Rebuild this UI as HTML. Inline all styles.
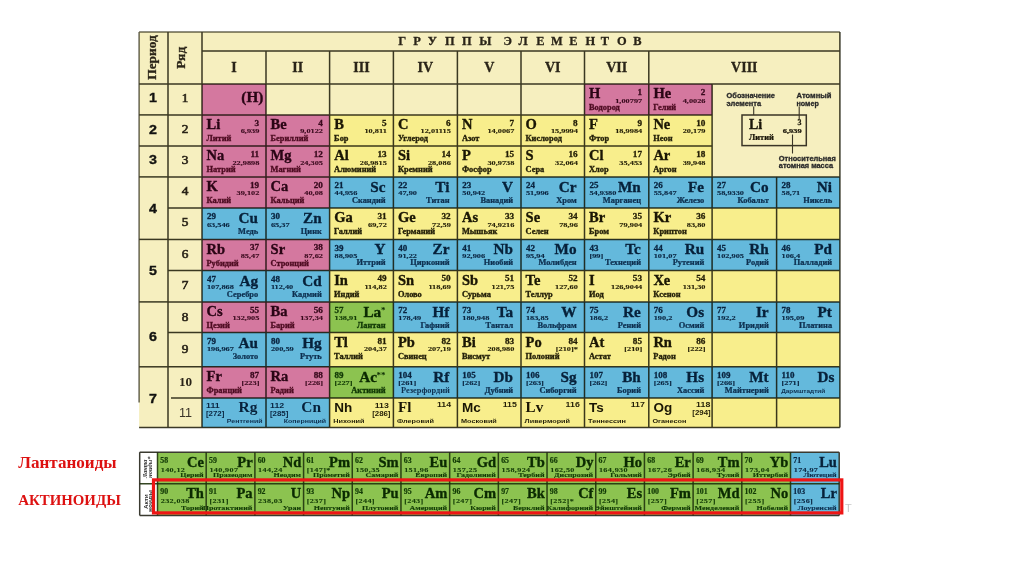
<!DOCTYPE html>
<html><head><meta charset="utf-8"><title>Периодическая система</title>
<style>html,body{margin:0;padding:0;background:#fff;width:1024px;height:574px;overflow:hidden}svg{display:block}</style>
</head><body>
<svg width="1024" height="574" viewBox="0 0 1024 574">
<rect x="139.10" y="31.90" width="700.80" height="395.60" fill="#f6efbf"/>
<rect x="202.00" y="114.90" width="64.00" height="31.10" fill="#d4789f"/>
<rect x="266.00" y="114.90" width="63.60" height="31.10" fill="#d4789f"/>
<rect x="329.60" y="114.90" width="63.80" height="31.10" fill="#f8ee8c"/>
<rect x="393.40" y="114.90" width="64.00" height="31.10" fill="#f8ee8c"/>
<rect x="457.40" y="114.90" width="63.60" height="31.10" fill="#f8ee8c"/>
<rect x="521.00" y="114.90" width="63.50" height="31.10" fill="#f8ee8c"/>
<rect x="584.50" y="114.90" width="64.30" height="31.10" fill="#f8ee8c"/>
<rect x="648.80" y="114.90" width="63.30" height="31.10" fill="#f8ee8c"/>
<rect x="202.00" y="146.00" width="64.00" height="30.90" fill="#d4789f"/>
<rect x="266.00" y="146.00" width="63.60" height="30.90" fill="#d4789f"/>
<rect x="329.60" y="146.00" width="63.80" height="30.90" fill="#f8ee8c"/>
<rect x="393.40" y="146.00" width="64.00" height="30.90" fill="#f8ee8c"/>
<rect x="457.40" y="146.00" width="63.60" height="30.90" fill="#f8ee8c"/>
<rect x="521.00" y="146.00" width="63.50" height="30.90" fill="#f8ee8c"/>
<rect x="584.50" y="146.00" width="64.30" height="30.90" fill="#f8ee8c"/>
<rect x="648.80" y="146.00" width="63.30" height="30.90" fill="#f8ee8c"/>
<rect x="202.00" y="176.90" width="64.00" height="31.10" fill="#d4789f"/>
<rect x="266.00" y="176.90" width="63.60" height="31.10" fill="#d4789f"/>
<rect x="329.60" y="176.90" width="63.80" height="31.10" fill="#64b9dc"/>
<rect x="393.40" y="176.90" width="64.00" height="31.10" fill="#64b9dc"/>
<rect x="457.40" y="176.90" width="63.60" height="31.10" fill="#64b9dc"/>
<rect x="521.00" y="176.90" width="63.50" height="31.10" fill="#64b9dc"/>
<rect x="584.50" y="176.90" width="64.30" height="31.10" fill="#64b9dc"/>
<rect x="648.80" y="176.90" width="63.30" height="31.10" fill="#64b9dc"/>
<rect x="712.10" y="176.90" width="64.50" height="31.10" fill="#64b9dc"/>
<rect x="776.60" y="176.90" width="63.30" height="31.10" fill="#64b9dc"/>
<rect x="202.00" y="208.00" width="64.00" height="31.40" fill="#64b9dc"/>
<rect x="266.00" y="208.00" width="63.60" height="31.40" fill="#64b9dc"/>
<rect x="329.60" y="208.00" width="63.80" height="31.40" fill="#f8ee8c"/>
<rect x="393.40" y="208.00" width="64.00" height="31.40" fill="#f8ee8c"/>
<rect x="457.40" y="208.00" width="63.60" height="31.40" fill="#f8ee8c"/>
<rect x="521.00" y="208.00" width="63.50" height="31.40" fill="#f8ee8c"/>
<rect x="584.50" y="208.00" width="64.30" height="31.40" fill="#f8ee8c"/>
<rect x="648.80" y="208.00" width="63.30" height="31.40" fill="#f8ee8c"/>
<rect x="712.10" y="208.00" width="64.50" height="31.40" fill="#f8ee8c"/>
<rect x="776.60" y="208.00" width="63.30" height="31.40" fill="#f8ee8c"/>
<rect x="202.00" y="239.40" width="64.00" height="31.10" fill="#d4789f"/>
<rect x="266.00" y="239.40" width="63.60" height="31.10" fill="#d4789f"/>
<rect x="329.60" y="239.40" width="63.80" height="31.10" fill="#64b9dc"/>
<rect x="393.40" y="239.40" width="64.00" height="31.10" fill="#64b9dc"/>
<rect x="457.40" y="239.40" width="63.60" height="31.10" fill="#64b9dc"/>
<rect x="521.00" y="239.40" width="63.50" height="31.10" fill="#64b9dc"/>
<rect x="584.50" y="239.40" width="64.30" height="31.10" fill="#64b9dc"/>
<rect x="648.80" y="239.40" width="63.30" height="31.10" fill="#64b9dc"/>
<rect x="712.10" y="239.40" width="64.50" height="31.10" fill="#64b9dc"/>
<rect x="776.60" y="239.40" width="63.30" height="31.10" fill="#64b9dc"/>
<rect x="202.00" y="270.50" width="64.00" height="31.40" fill="#64b9dc"/>
<rect x="266.00" y="270.50" width="63.60" height="31.40" fill="#64b9dc"/>
<rect x="329.60" y="270.50" width="63.80" height="31.40" fill="#f8ee8c"/>
<rect x="393.40" y="270.50" width="64.00" height="31.40" fill="#f8ee8c"/>
<rect x="457.40" y="270.50" width="63.60" height="31.40" fill="#f8ee8c"/>
<rect x="521.00" y="270.50" width="63.50" height="31.40" fill="#f8ee8c"/>
<rect x="584.50" y="270.50" width="64.30" height="31.40" fill="#f8ee8c"/>
<rect x="648.80" y="270.50" width="63.30" height="31.40" fill="#f8ee8c"/>
<rect x="712.10" y="270.50" width="64.50" height="31.40" fill="#f8ee8c"/>
<rect x="776.60" y="270.50" width="63.30" height="31.40" fill="#f8ee8c"/>
<rect x="202.00" y="301.90" width="64.00" height="30.70" fill="#d4789f"/>
<rect x="266.00" y="301.90" width="63.60" height="30.70" fill="#d4789f"/>
<rect x="329.60" y="301.90" width="63.80" height="30.70" fill="#8cc350"/>
<rect x="393.40" y="301.90" width="64.00" height="30.70" fill="#64b9dc"/>
<rect x="457.40" y="301.90" width="63.60" height="30.70" fill="#64b9dc"/>
<rect x="521.00" y="301.90" width="63.50" height="30.70" fill="#64b9dc"/>
<rect x="584.50" y="301.90" width="64.30" height="30.70" fill="#64b9dc"/>
<rect x="648.80" y="301.90" width="63.30" height="30.70" fill="#64b9dc"/>
<rect x="712.10" y="301.90" width="64.50" height="30.70" fill="#64b9dc"/>
<rect x="776.60" y="301.90" width="63.30" height="30.70" fill="#64b9dc"/>
<rect x="202.00" y="332.60" width="64.00" height="34.20" fill="#64b9dc"/>
<rect x="266.00" y="332.60" width="63.60" height="34.20" fill="#64b9dc"/>
<rect x="329.60" y="332.60" width="63.80" height="34.20" fill="#f8ee8c"/>
<rect x="393.40" y="332.60" width="64.00" height="34.20" fill="#f8ee8c"/>
<rect x="457.40" y="332.60" width="63.60" height="34.20" fill="#f8ee8c"/>
<rect x="521.00" y="332.60" width="63.50" height="34.20" fill="#f8ee8c"/>
<rect x="584.50" y="332.60" width="64.30" height="34.20" fill="#f8ee8c"/>
<rect x="648.80" y="332.60" width="63.30" height="34.20" fill="#f8ee8c"/>
<rect x="712.10" y="332.60" width="64.50" height="34.20" fill="#f8ee8c"/>
<rect x="776.60" y="332.60" width="63.30" height="34.20" fill="#f8ee8c"/>
<rect x="202.00" y="366.80" width="64.00" height="31.20" fill="#d4789f"/>
<rect x="266.00" y="366.80" width="63.60" height="31.20" fill="#d4789f"/>
<rect x="329.60" y="366.80" width="63.80" height="31.20" fill="#8cc350"/>
<rect x="393.40" y="366.80" width="64.00" height="31.20" fill="#64b9dc"/>
<rect x="457.40" y="366.80" width="63.60" height="31.20" fill="#64b9dc"/>
<rect x="521.00" y="366.80" width="63.50" height="31.20" fill="#64b9dc"/>
<rect x="584.50" y="366.80" width="64.30" height="31.20" fill="#64b9dc"/>
<rect x="648.80" y="366.80" width="63.30" height="31.20" fill="#64b9dc"/>
<rect x="712.10" y="366.80" width="64.50" height="31.20" fill="#64b9dc"/>
<rect x="776.60" y="366.80" width="63.30" height="31.20" fill="#64b9dc"/>
<rect x="202.00" y="398.00" width="64.00" height="29.50" fill="#64b9dc"/>
<rect x="266.00" y="398.00" width="63.60" height="29.50" fill="#64b9dc"/>
<rect x="329.60" y="398.00" width="63.80" height="29.50" fill="#f8ee8c"/>
<rect x="393.40" y="398.00" width="64.00" height="29.50" fill="#f8ee8c"/>
<rect x="457.40" y="398.00" width="63.60" height="29.50" fill="#f8ee8c"/>
<rect x="521.00" y="398.00" width="63.50" height="29.50" fill="#f8ee8c"/>
<rect x="584.50" y="398.00" width="64.30" height="29.50" fill="#f8ee8c"/>
<rect x="648.80" y="398.00" width="63.30" height="29.50" fill="#f8ee8c"/>
<rect x="712.10" y="398.00" width="64.50" height="29.50" fill="#f8ee8c"/>
<rect x="776.60" y="398.00" width="63.30" height="29.50" fill="#f8ee8c"/>
<rect x="584.50" y="84.00" width="64.30" height="30.90" fill="#d4789f"/>
<rect x="648.80" y="84.00" width="63.30" height="30.90" fill="#d4789f"/>
<rect x="202.00" y="84.00" width="64.00" height="30.90" fill="#d4789f"/>
<text x="206.60" y="129.20" font-family='"Liberation Serif", serif' font-size="14.5" font-weight="bold" fill="#2a0515" stroke="#2a0515" stroke-width="0.35">Li</text>
<text transform="translate(259.20,125.80) scale(1.08,1.0)" font-family='"Liberation Serif", serif' font-size="8.5" font-weight="bold" fill="#3a0a1e" text-anchor="end" stroke="#3a0a1e" stroke-width="0.3">3</text>
<text transform="translate(259.40,133.40) scale(1.04,0.8)" font-family='"Liberation Serif", serif' font-size="8" font-weight="bold" fill="#3a0a1e" text-anchor="end" stroke="#3a0a1e" stroke-width="0.15">6,939</text>
<text transform="translate(206.50,141.00) scale(1.15,1.0)" font-family='"Liberation Serif", serif' font-size="7.3" font-weight="bold" fill="#4e0c22" stroke="#4e0c22" stroke-width="0.3">Литий</text>
<text x="270.60" y="129.20" font-family='"Liberation Serif", serif' font-size="14.5" font-weight="bold" fill="#2a0515" stroke="#2a0515" stroke-width="0.35">Be</text>
<text transform="translate(322.80,125.80) scale(1.08,1.0)" font-family='"Liberation Serif", serif' font-size="8.5" font-weight="bold" fill="#3a0a1e" text-anchor="end" stroke="#3a0a1e" stroke-width="0.3">4</text>
<text transform="translate(323.00,133.40) scale(1.04,0.8)" font-family='"Liberation Serif", serif' font-size="8" font-weight="bold" fill="#3a0a1e" text-anchor="end" stroke="#3a0a1e" stroke-width="0.15">9,0122</text>
<text transform="translate(270.50,141.00) scale(1.15,1.0)" font-family='"Liberation Serif", serif' font-size="7.3" font-weight="bold" fill="#4e0c22" stroke="#4e0c22" stroke-width="0.3">Бериллий</text>
<text x="334.20" y="129.20" font-family='"Liberation Serif", serif' font-size="14.5" font-weight="bold" fill="#1a1604" stroke="#1a1604" stroke-width="0.35">B</text>
<text transform="translate(386.60,125.80) scale(1.08,1.0)" font-family='"Liberation Serif", serif' font-size="8.5" font-weight="bold" fill="#231e06" text-anchor="end" stroke="#231e06" stroke-width="0.3">5</text>
<text transform="translate(386.80,133.40) scale(1.04,0.8)" font-family='"Liberation Serif", serif' font-size="8" font-weight="bold" fill="#231e06" text-anchor="end" stroke="#231e06" stroke-width="0.15">10,811</text>
<text transform="translate(334.10,141.00) scale(1.15,1.0)" font-family='"Liberation Serif", serif' font-size="7.3" font-weight="bold" fill="#26220a" stroke="#26220a" stroke-width="0.3">Бор</text>
<text x="398.00" y="129.20" font-family='"Liberation Serif", serif' font-size="14.5" font-weight="bold" fill="#1a1604" stroke="#1a1604" stroke-width="0.35">C</text>
<text transform="translate(450.60,125.80) scale(1.08,1.0)" font-family='"Liberation Serif", serif' font-size="8.5" font-weight="bold" fill="#231e06" text-anchor="end" stroke="#231e06" stroke-width="0.3">6</text>
<text transform="translate(450.80,133.40) scale(1.04,0.8)" font-family='"Liberation Serif", serif' font-size="8" font-weight="bold" fill="#231e06" text-anchor="end" stroke="#231e06" stroke-width="0.15">12,01115</text>
<text transform="translate(397.90,141.00) scale(1.15,1.0)" font-family='"Liberation Serif", serif' font-size="7.3" font-weight="bold" fill="#26220a" stroke="#26220a" stroke-width="0.3">Углерод</text>
<text x="462.00" y="129.20" font-family='"Liberation Serif", serif' font-size="14.5" font-weight="bold" fill="#1a1604" stroke="#1a1604" stroke-width="0.35">N</text>
<text transform="translate(514.20,125.80) scale(1.08,1.0)" font-family='"Liberation Serif", serif' font-size="8.5" font-weight="bold" fill="#231e06" text-anchor="end" stroke="#231e06" stroke-width="0.3">7</text>
<text transform="translate(514.40,133.40) scale(1.04,0.8)" font-family='"Liberation Serif", serif' font-size="8" font-weight="bold" fill="#231e06" text-anchor="end" stroke="#231e06" stroke-width="0.15">14,0067</text>
<text transform="translate(461.90,141.00) scale(1.15,1.0)" font-family='"Liberation Serif", serif' font-size="7.3" font-weight="bold" fill="#26220a" stroke="#26220a" stroke-width="0.3">Азот</text>
<text x="525.60" y="129.20" font-family='"Liberation Serif", serif' font-size="14.5" font-weight="bold" fill="#1a1604" stroke="#1a1604" stroke-width="0.35">O</text>
<text transform="translate(577.70,125.80) scale(1.08,1.0)" font-family='"Liberation Serif", serif' font-size="8.5" font-weight="bold" fill="#231e06" text-anchor="end" stroke="#231e06" stroke-width="0.3">8</text>
<text transform="translate(577.90,133.40) scale(1.04,0.8)" font-family='"Liberation Serif", serif' font-size="8" font-weight="bold" fill="#231e06" text-anchor="end" stroke="#231e06" stroke-width="0.15">15,9994</text>
<text transform="translate(525.50,141.00) scale(1.15,1.0)" font-family='"Liberation Serif", serif' font-size="7.3" font-weight="bold" fill="#26220a" stroke="#26220a" stroke-width="0.3">Кислород</text>
<text x="589.10" y="129.20" font-family='"Liberation Serif", serif' font-size="14.5" font-weight="bold" fill="#1a1604" stroke="#1a1604" stroke-width="0.35">F</text>
<text transform="translate(642.00,125.80) scale(1.08,1.0)" font-family='"Liberation Serif", serif' font-size="8.5" font-weight="bold" fill="#231e06" text-anchor="end" stroke="#231e06" stroke-width="0.3">9</text>
<text transform="translate(642.20,133.40) scale(1.04,0.8)" font-family='"Liberation Serif", serif' font-size="8" font-weight="bold" fill="#231e06" text-anchor="end" stroke="#231e06" stroke-width="0.15">18,9984</text>
<text transform="translate(589.00,141.00) scale(1.15,1.0)" font-family='"Liberation Serif", serif' font-size="7.3" font-weight="bold" fill="#26220a" stroke="#26220a" stroke-width="0.3">Фтор</text>
<text x="653.40" y="129.20" font-family='"Liberation Serif", serif' font-size="14.5" font-weight="bold" fill="#1a1604" stroke="#1a1604" stroke-width="0.35">Ne</text>
<text transform="translate(705.30,125.80) scale(1.08,1.0)" font-family='"Liberation Serif", serif' font-size="8.5" font-weight="bold" fill="#231e06" text-anchor="end" stroke="#231e06" stroke-width="0.3">10</text>
<text transform="translate(705.50,133.40) scale(1.04,0.8)" font-family='"Liberation Serif", serif' font-size="8" font-weight="bold" fill="#231e06" text-anchor="end" stroke="#231e06" stroke-width="0.15">20,179</text>
<text transform="translate(653.30,141.00) scale(1.15,1.0)" font-family='"Liberation Serif", serif' font-size="7.3" font-weight="bold" fill="#26220a" stroke="#26220a" stroke-width="0.3">Неон</text>
<text x="206.60" y="160.30" font-family='"Liberation Serif", serif' font-size="14.5" font-weight="bold" fill="#2a0515" stroke="#2a0515" stroke-width="0.35">Na</text>
<text transform="translate(259.20,156.90) scale(1.08,1.0)" font-family='"Liberation Serif", serif' font-size="8.5" font-weight="bold" fill="#3a0a1e" text-anchor="end" stroke="#3a0a1e" stroke-width="0.3">11</text>
<text transform="translate(259.40,164.50) scale(1.04,0.8)" font-family='"Liberation Serif", serif' font-size="8" font-weight="bold" fill="#3a0a1e" text-anchor="end" stroke="#3a0a1e" stroke-width="0.15">22,9898</text>
<text transform="translate(206.50,172.10) scale(1.15,1.0)" font-family='"Liberation Serif", serif' font-size="7.3" font-weight="bold" fill="#4e0c22" stroke="#4e0c22" stroke-width="0.3">Натрий</text>
<text x="270.60" y="160.30" font-family='"Liberation Serif", serif' font-size="14.5" font-weight="bold" fill="#2a0515" stroke="#2a0515" stroke-width="0.35">Mg</text>
<text transform="translate(322.80,156.90) scale(1.08,1.0)" font-family='"Liberation Serif", serif' font-size="8.5" font-weight="bold" fill="#3a0a1e" text-anchor="end" stroke="#3a0a1e" stroke-width="0.3">12</text>
<text transform="translate(323.00,164.50) scale(1.04,0.8)" font-family='"Liberation Serif", serif' font-size="8" font-weight="bold" fill="#3a0a1e" text-anchor="end" stroke="#3a0a1e" stroke-width="0.15">24,305</text>
<text transform="translate(270.50,172.10) scale(1.15,1.0)" font-family='"Liberation Serif", serif' font-size="7.3" font-weight="bold" fill="#4e0c22" stroke="#4e0c22" stroke-width="0.3">Магний</text>
<text x="334.20" y="160.30" font-family='"Liberation Serif", serif' font-size="14.5" font-weight="bold" fill="#1a1604" stroke="#1a1604" stroke-width="0.35">Al</text>
<text transform="translate(386.60,156.90) scale(1.08,1.0)" font-family='"Liberation Serif", serif' font-size="8.5" font-weight="bold" fill="#231e06" text-anchor="end" stroke="#231e06" stroke-width="0.3">13</text>
<text transform="translate(386.80,164.50) scale(1.04,0.8)" font-family='"Liberation Serif", serif' font-size="8" font-weight="bold" fill="#231e06" text-anchor="end" stroke="#231e06" stroke-width="0.15">26,9815</text>
<text transform="translate(334.10,172.10) scale(1.15,1.0)" font-family='"Liberation Serif", serif' font-size="7.3" font-weight="bold" fill="#26220a" stroke="#26220a" stroke-width="0.3">Алюминий</text>
<text x="398.00" y="160.30" font-family='"Liberation Serif", serif' font-size="14.5" font-weight="bold" fill="#1a1604" stroke="#1a1604" stroke-width="0.35">Si</text>
<text transform="translate(450.60,156.90) scale(1.08,1.0)" font-family='"Liberation Serif", serif' font-size="8.5" font-weight="bold" fill="#231e06" text-anchor="end" stroke="#231e06" stroke-width="0.3">14</text>
<text transform="translate(450.80,164.50) scale(1.04,0.8)" font-family='"Liberation Serif", serif' font-size="8" font-weight="bold" fill="#231e06" text-anchor="end" stroke="#231e06" stroke-width="0.15">28,086</text>
<text transform="translate(397.90,172.10) scale(1.15,1.0)" font-family='"Liberation Serif", serif' font-size="7.3" font-weight="bold" fill="#26220a" stroke="#26220a" stroke-width="0.3">Кремний</text>
<text x="462.00" y="160.30" font-family='"Liberation Serif", serif' font-size="14.5" font-weight="bold" fill="#1a1604" stroke="#1a1604" stroke-width="0.35">P</text>
<text transform="translate(514.20,156.90) scale(1.08,1.0)" font-family='"Liberation Serif", serif' font-size="8.5" font-weight="bold" fill="#231e06" text-anchor="end" stroke="#231e06" stroke-width="0.3">15</text>
<text transform="translate(514.40,164.50) scale(1.04,0.8)" font-family='"Liberation Serif", serif' font-size="8" font-weight="bold" fill="#231e06" text-anchor="end" stroke="#231e06" stroke-width="0.15">30,9738</text>
<text transform="translate(461.90,172.10) scale(1.15,1.0)" font-family='"Liberation Serif", serif' font-size="7.3" font-weight="bold" fill="#26220a" stroke="#26220a" stroke-width="0.3">Фосфор</text>
<text x="525.60" y="160.30" font-family='"Liberation Serif", serif' font-size="14.5" font-weight="bold" fill="#1a1604" stroke="#1a1604" stroke-width="0.35">S</text>
<text transform="translate(577.70,156.90) scale(1.08,1.0)" font-family='"Liberation Serif", serif' font-size="8.5" font-weight="bold" fill="#231e06" text-anchor="end" stroke="#231e06" stroke-width="0.3">16</text>
<text transform="translate(577.90,164.50) scale(1.04,0.8)" font-family='"Liberation Serif", serif' font-size="8" font-weight="bold" fill="#231e06" text-anchor="end" stroke="#231e06" stroke-width="0.15">32,064</text>
<text transform="translate(525.50,172.10) scale(1.15,1.0)" font-family='"Liberation Serif", serif' font-size="7.3" font-weight="bold" fill="#26220a" stroke="#26220a" stroke-width="0.3">Сера</text>
<text x="589.10" y="160.30" font-family='"Liberation Serif", serif' font-size="14.5" font-weight="bold" fill="#1a1604" stroke="#1a1604" stroke-width="0.35">Cl</text>
<text transform="translate(642.00,156.90) scale(1.08,1.0)" font-family='"Liberation Serif", serif' font-size="8.5" font-weight="bold" fill="#231e06" text-anchor="end" stroke="#231e06" stroke-width="0.3">17</text>
<text transform="translate(642.20,164.50) scale(1.04,0.8)" font-family='"Liberation Serif", serif' font-size="8" font-weight="bold" fill="#231e06" text-anchor="end" stroke="#231e06" stroke-width="0.15">35,453</text>
<text transform="translate(589.00,172.10) scale(1.15,1.0)" font-family='"Liberation Serif", serif' font-size="7.3" font-weight="bold" fill="#26220a" stroke="#26220a" stroke-width="0.3">Хлор</text>
<text x="653.40" y="160.30" font-family='"Liberation Serif", serif' font-size="14.5" font-weight="bold" fill="#1a1604" stroke="#1a1604" stroke-width="0.35">Ar</text>
<text transform="translate(705.30,156.90) scale(1.08,1.0)" font-family='"Liberation Serif", serif' font-size="8.5" font-weight="bold" fill="#231e06" text-anchor="end" stroke="#231e06" stroke-width="0.3">18</text>
<text transform="translate(705.50,164.50) scale(1.04,0.8)" font-family='"Liberation Serif", serif' font-size="8" font-weight="bold" fill="#231e06" text-anchor="end" stroke="#231e06" stroke-width="0.15">39,948</text>
<text transform="translate(653.30,172.10) scale(1.15,1.0)" font-family='"Liberation Serif", serif' font-size="7.3" font-weight="bold" fill="#26220a" stroke="#26220a" stroke-width="0.3">Аргон</text>
<text x="206.60" y="191.20" font-family='"Liberation Serif", serif' font-size="14.5" font-weight="bold" fill="#2a0515" stroke="#2a0515" stroke-width="0.35">K</text>
<text transform="translate(259.20,187.80) scale(1.08,1.0)" font-family='"Liberation Serif", serif' font-size="8.5" font-weight="bold" fill="#3a0a1e" text-anchor="end" stroke="#3a0a1e" stroke-width="0.3">19</text>
<text transform="translate(259.40,195.40) scale(1.04,0.8)" font-family='"Liberation Serif", serif' font-size="8" font-weight="bold" fill="#3a0a1e" text-anchor="end" stroke="#3a0a1e" stroke-width="0.15">39,102</text>
<text transform="translate(206.50,203.00) scale(1.15,1.0)" font-family='"Liberation Serif", serif' font-size="7.3" font-weight="bold" fill="#4e0c22" stroke="#4e0c22" stroke-width="0.3">Калий</text>
<text x="270.60" y="191.20" font-family='"Liberation Serif", serif' font-size="14.5" font-weight="bold" fill="#2a0515" stroke="#2a0515" stroke-width="0.35">Ca</text>
<text transform="translate(322.80,187.80) scale(1.08,1.0)" font-family='"Liberation Serif", serif' font-size="8.5" font-weight="bold" fill="#3a0a1e" text-anchor="end" stroke="#3a0a1e" stroke-width="0.3">20</text>
<text transform="translate(323.00,195.40) scale(1.04,0.8)" font-family='"Liberation Serif", serif' font-size="8" font-weight="bold" fill="#3a0a1e" text-anchor="end" stroke="#3a0a1e" stroke-width="0.15">40,08</text>
<text transform="translate(270.50,203.00) scale(1.15,1.0)" font-family='"Liberation Serif", serif' font-size="7.3" font-weight="bold" fill="#4e0c22" stroke="#4e0c22" stroke-width="0.3">Кальций</text>
<text transform="translate(334.50,188.10) scale(1.06,1.0)" font-family='"Liberation Serif", serif' font-size="8.5" font-weight="bold" fill="#0a2540" stroke="#0a2540" stroke-width="0.3">21</text>
<text transform="translate(334.50,195.40) scale(1.04,0.8)" font-family='"Liberation Serif", serif' font-size="8" font-weight="bold" fill="#0a2540" stroke="#0a2540" stroke-width="0.15">44,956</text>
<text x="385.40" y="191.90" font-family='"Liberation Serif", serif' font-size="15.2" font-weight="bold" fill="#07213a" text-anchor="end" stroke="#07213a" stroke-width="0.35">Sc</text>
<text transform="translate(385.60,202.90) scale(1.15,1.0)" font-family='"Liberation Serif", serif' font-size="7.3" font-weight="bold" fill="#0e3050" text-anchor="end" stroke="#0e3050" stroke-width="0.25">Скандий</text>
<text transform="translate(398.30,188.10) scale(1.06,1.0)" font-family='"Liberation Serif", serif' font-size="8.5" font-weight="bold" fill="#0a2540" stroke="#0a2540" stroke-width="0.3">22</text>
<text transform="translate(398.30,195.40) scale(1.04,0.8)" font-family='"Liberation Serif", serif' font-size="8" font-weight="bold" fill="#0a2540" stroke="#0a2540" stroke-width="0.15">47,90</text>
<text x="449.40" y="191.90" font-family='"Liberation Serif", serif' font-size="15.2" font-weight="bold" fill="#07213a" text-anchor="end" stroke="#07213a" stroke-width="0.35">Ti</text>
<text transform="translate(449.60,202.90) scale(1.15,1.0)" font-family='"Liberation Serif", serif' font-size="7.3" font-weight="bold" fill="#0e3050" text-anchor="end" stroke="#0e3050" stroke-width="0.25">Титан</text>
<text transform="translate(462.30,188.10) scale(1.06,1.0)" font-family='"Liberation Serif", serif' font-size="8.5" font-weight="bold" fill="#0a2540" stroke="#0a2540" stroke-width="0.3">23</text>
<text transform="translate(462.30,195.40) scale(1.04,0.8)" font-family='"Liberation Serif", serif' font-size="8" font-weight="bold" fill="#0a2540" stroke="#0a2540" stroke-width="0.15">50,942</text>
<text x="513.00" y="191.90" font-family='"Liberation Serif", serif' font-size="15.2" font-weight="bold" fill="#07213a" text-anchor="end" stroke="#07213a" stroke-width="0.35">V</text>
<text transform="translate(513.20,202.90) scale(1.15,1.0)" font-family='"Liberation Serif", serif' font-size="7.3" font-weight="bold" fill="#0e3050" text-anchor="end" stroke="#0e3050" stroke-width="0.25">Ванадий</text>
<text transform="translate(525.90,188.10) scale(1.06,1.0)" font-family='"Liberation Serif", serif' font-size="8.5" font-weight="bold" fill="#0a2540" stroke="#0a2540" stroke-width="0.3">24</text>
<text transform="translate(525.90,195.40) scale(1.04,0.8)" font-family='"Liberation Serif", serif' font-size="8" font-weight="bold" fill="#0a2540" stroke="#0a2540" stroke-width="0.15">51,996</text>
<text x="576.50" y="191.90" font-family='"Liberation Serif", serif' font-size="15.2" font-weight="bold" fill="#07213a" text-anchor="end" stroke="#07213a" stroke-width="0.35">Cr</text>
<text transform="translate(576.70,202.90) scale(1.15,1.0)" font-family='"Liberation Serif", serif' font-size="7.3" font-weight="bold" fill="#0e3050" text-anchor="end" stroke="#0e3050" stroke-width="0.25">Хром</text>
<text transform="translate(589.40,188.10) scale(1.06,1.0)" font-family='"Liberation Serif", serif' font-size="8.5" font-weight="bold" fill="#0a2540" stroke="#0a2540" stroke-width="0.3">25</text>
<text transform="translate(589.40,195.40) scale(1.04,0.8)" font-family='"Liberation Serif", serif' font-size="8" font-weight="bold" fill="#0a2540" stroke="#0a2540" stroke-width="0.15">54,9380</text>
<text x="640.80" y="191.90" font-family='"Liberation Serif", serif' font-size="15.2" font-weight="bold" fill="#07213a" text-anchor="end" stroke="#07213a" stroke-width="0.35">Mn</text>
<text transform="translate(641.00,202.90) scale(1.15,1.0)" font-family='"Liberation Serif", serif' font-size="7.3" font-weight="bold" fill="#0e3050" text-anchor="end" stroke="#0e3050" stroke-width="0.25">Марганец</text>
<text transform="translate(653.70,188.10) scale(1.06,1.0)" font-family='"Liberation Serif", serif' font-size="8.5" font-weight="bold" fill="#0a2540" stroke="#0a2540" stroke-width="0.3">26</text>
<text transform="translate(653.70,195.40) scale(1.04,0.8)" font-family='"Liberation Serif", serif' font-size="8" font-weight="bold" fill="#0a2540" stroke="#0a2540" stroke-width="0.15">55,847</text>
<text x="704.10" y="191.90" font-family='"Liberation Serif", serif' font-size="15.2" font-weight="bold" fill="#07213a" text-anchor="end" stroke="#07213a" stroke-width="0.35">Fe</text>
<text transform="translate(704.30,202.90) scale(1.15,1.0)" font-family='"Liberation Serif", serif' font-size="7.3" font-weight="bold" fill="#0e3050" text-anchor="end" stroke="#0e3050" stroke-width="0.25">Железо</text>
<text transform="translate(717.00,188.10) scale(1.06,1.0)" font-family='"Liberation Serif", serif' font-size="8.5" font-weight="bold" fill="#0a2540" stroke="#0a2540" stroke-width="0.3">27</text>
<text transform="translate(717.00,195.40) scale(1.04,0.8)" font-family='"Liberation Serif", serif' font-size="8" font-weight="bold" fill="#0a2540" stroke="#0a2540" stroke-width="0.15">58,9330</text>
<text x="768.60" y="191.90" font-family='"Liberation Serif", serif' font-size="15.2" font-weight="bold" fill="#07213a" text-anchor="end" stroke="#07213a" stroke-width="0.35">Co</text>
<text transform="translate(768.80,202.90) scale(1.15,1.0)" font-family='"Liberation Serif", serif' font-size="7.3" font-weight="bold" fill="#0e3050" text-anchor="end" stroke="#0e3050" stroke-width="0.25">Кобальт</text>
<text transform="translate(781.50,188.10) scale(1.06,1.0)" font-family='"Liberation Serif", serif' font-size="8.5" font-weight="bold" fill="#0a2540" stroke="#0a2540" stroke-width="0.3">28</text>
<text transform="translate(781.50,195.40) scale(1.04,0.8)" font-family='"Liberation Serif", serif' font-size="8" font-weight="bold" fill="#0a2540" stroke="#0a2540" stroke-width="0.15">58,71</text>
<text x="831.90" y="191.90" font-family='"Liberation Serif", serif' font-size="15.2" font-weight="bold" fill="#07213a" text-anchor="end" stroke="#07213a" stroke-width="0.35">Ni</text>
<text transform="translate(832.10,202.90) scale(1.15,1.0)" font-family='"Liberation Serif", serif' font-size="7.3" font-weight="bold" fill="#0e3050" text-anchor="end" stroke="#0e3050" stroke-width="0.25">Никель</text>
<text transform="translate(206.90,219.20) scale(1.06,1.0)" font-family='"Liberation Serif", serif' font-size="8.5" font-weight="bold" fill="#0a2540" stroke="#0a2540" stroke-width="0.3">29</text>
<text transform="translate(206.90,226.50) scale(1.04,0.8)" font-family='"Liberation Serif", serif' font-size="8" font-weight="bold" fill="#0a2540" stroke="#0a2540" stroke-width="0.15">63,546</text>
<text x="258.00" y="223.00" font-family='"Liberation Serif", serif' font-size="15.2" font-weight="bold" fill="#07213a" text-anchor="end" stroke="#07213a" stroke-width="0.35">Cu</text>
<text transform="translate(258.20,234.00) scale(1.15,1.0)" font-family='"Liberation Serif", serif' font-size="7.3" font-weight="bold" fill="#0e3050" text-anchor="end" stroke="#0e3050" stroke-width="0.25">Медь</text>
<text transform="translate(270.90,219.20) scale(1.06,1.0)" font-family='"Liberation Serif", serif' font-size="8.5" font-weight="bold" fill="#0a2540" stroke="#0a2540" stroke-width="0.3">30</text>
<text transform="translate(270.90,226.50) scale(1.04,0.8)" font-family='"Liberation Serif", serif' font-size="8" font-weight="bold" fill="#0a2540" stroke="#0a2540" stroke-width="0.15">65,37</text>
<text x="321.60" y="223.00" font-family='"Liberation Serif", serif' font-size="15.2" font-weight="bold" fill="#07213a" text-anchor="end" stroke="#07213a" stroke-width="0.35">Zn</text>
<text transform="translate(321.80,234.00) scale(1.15,1.0)" font-family='"Liberation Serif", serif' font-size="7.3" font-weight="bold" fill="#0e3050" text-anchor="end" stroke="#0e3050" stroke-width="0.25">Цинк</text>
<text x="334.20" y="222.30" font-family='"Liberation Serif", serif' font-size="14.5" font-weight="bold" fill="#1a1604" stroke="#1a1604" stroke-width="0.35">Ga</text>
<text transform="translate(386.60,218.90) scale(1.08,1.0)" font-family='"Liberation Serif", serif' font-size="8.5" font-weight="bold" fill="#231e06" text-anchor="end" stroke="#231e06" stroke-width="0.3">31</text>
<text transform="translate(386.80,226.50) scale(1.04,0.8)" font-family='"Liberation Serif", serif' font-size="8" font-weight="bold" fill="#231e06" text-anchor="end" stroke="#231e06" stroke-width="0.15">69,72</text>
<text transform="translate(334.10,234.10) scale(1.15,1.0)" font-family='"Liberation Serif", serif' font-size="7.3" font-weight="bold" fill="#26220a" stroke="#26220a" stroke-width="0.3">Галлий</text>
<text x="398.00" y="222.30" font-family='"Liberation Serif", serif' font-size="14.5" font-weight="bold" fill="#1a1604" stroke="#1a1604" stroke-width="0.35">Ge</text>
<text transform="translate(450.60,218.90) scale(1.08,1.0)" font-family='"Liberation Serif", serif' font-size="8.5" font-weight="bold" fill="#231e06" text-anchor="end" stroke="#231e06" stroke-width="0.3">32</text>
<text transform="translate(450.80,226.50) scale(1.04,0.8)" font-family='"Liberation Serif", serif' font-size="8" font-weight="bold" fill="#231e06" text-anchor="end" stroke="#231e06" stroke-width="0.15">72,59</text>
<text transform="translate(397.90,234.10) scale(1.15,1.0)" font-family='"Liberation Serif", serif' font-size="7.3" font-weight="bold" fill="#26220a" stroke="#26220a" stroke-width="0.3">Германий</text>
<text x="462.00" y="222.30" font-family='"Liberation Serif", serif' font-size="14.5" font-weight="bold" fill="#1a1604" stroke="#1a1604" stroke-width="0.35">As</text>
<text transform="translate(514.20,218.90) scale(1.08,1.0)" font-family='"Liberation Serif", serif' font-size="8.5" font-weight="bold" fill="#231e06" text-anchor="end" stroke="#231e06" stroke-width="0.3">33</text>
<text transform="translate(514.40,226.50) scale(1.04,0.8)" font-family='"Liberation Serif", serif' font-size="8" font-weight="bold" fill="#231e06" text-anchor="end" stroke="#231e06" stroke-width="0.15">74,9216</text>
<text transform="translate(461.90,234.10) scale(1.15,1.0)" font-family='"Liberation Serif", serif' font-size="7.3" font-weight="bold" fill="#26220a" stroke="#26220a" stroke-width="0.3">Мышьяк</text>
<text x="525.60" y="222.30" font-family='"Liberation Serif", serif' font-size="14.5" font-weight="bold" fill="#1a1604" stroke="#1a1604" stroke-width="0.35">Se</text>
<text transform="translate(577.70,218.90) scale(1.08,1.0)" font-family='"Liberation Serif", serif' font-size="8.5" font-weight="bold" fill="#231e06" text-anchor="end" stroke="#231e06" stroke-width="0.3">34</text>
<text transform="translate(577.90,226.50) scale(1.04,0.8)" font-family='"Liberation Serif", serif' font-size="8" font-weight="bold" fill="#231e06" text-anchor="end" stroke="#231e06" stroke-width="0.15">78,96</text>
<text transform="translate(525.50,234.10) scale(1.15,1.0)" font-family='"Liberation Serif", serif' font-size="7.3" font-weight="bold" fill="#26220a" stroke="#26220a" stroke-width="0.3">Селен</text>
<text x="589.10" y="222.30" font-family='"Liberation Serif", serif' font-size="14.5" font-weight="bold" fill="#1a1604" stroke="#1a1604" stroke-width="0.35">Br</text>
<text transform="translate(642.00,218.90) scale(1.08,1.0)" font-family='"Liberation Serif", serif' font-size="8.5" font-weight="bold" fill="#231e06" text-anchor="end" stroke="#231e06" stroke-width="0.3">35</text>
<text transform="translate(642.20,226.50) scale(1.04,0.8)" font-family='"Liberation Serif", serif' font-size="8" font-weight="bold" fill="#231e06" text-anchor="end" stroke="#231e06" stroke-width="0.15">79,904</text>
<text transform="translate(589.00,234.10) scale(1.15,1.0)" font-family='"Liberation Serif", serif' font-size="7.3" font-weight="bold" fill="#26220a" stroke="#26220a" stroke-width="0.3">Бром</text>
<text x="653.40" y="222.30" font-family='"Liberation Serif", serif' font-size="14.5" font-weight="bold" fill="#1a1604" stroke="#1a1604" stroke-width="0.35">Kr</text>
<text transform="translate(705.30,218.90) scale(1.08,1.0)" font-family='"Liberation Serif", serif' font-size="8.5" font-weight="bold" fill="#231e06" text-anchor="end" stroke="#231e06" stroke-width="0.3">36</text>
<text transform="translate(705.50,226.50) scale(1.04,0.8)" font-family='"Liberation Serif", serif' font-size="8" font-weight="bold" fill="#231e06" text-anchor="end" stroke="#231e06" stroke-width="0.15">83,80</text>
<text transform="translate(653.30,234.10) scale(1.15,1.0)" font-family='"Liberation Serif", serif' font-size="7.3" font-weight="bold" fill="#26220a" stroke="#26220a" stroke-width="0.3">Криптон</text>
<text x="206.60" y="253.70" font-family='"Liberation Serif", serif' font-size="14.5" font-weight="bold" fill="#2a0515" stroke="#2a0515" stroke-width="0.35">Rb</text>
<text transform="translate(259.20,250.30) scale(1.08,1.0)" font-family='"Liberation Serif", serif' font-size="8.5" font-weight="bold" fill="#3a0a1e" text-anchor="end" stroke="#3a0a1e" stroke-width="0.3">37</text>
<text transform="translate(259.40,257.90) scale(1.04,0.8)" font-family='"Liberation Serif", serif' font-size="8" font-weight="bold" fill="#3a0a1e" text-anchor="end" stroke="#3a0a1e" stroke-width="0.15">85,47</text>
<text transform="translate(206.50,265.50) scale(1.15,1.0)" font-family='"Liberation Serif", serif' font-size="7.3" font-weight="bold" fill="#4e0c22" stroke="#4e0c22" stroke-width="0.3">Рубидий</text>
<text x="270.60" y="253.70" font-family='"Liberation Serif", serif' font-size="14.5" font-weight="bold" fill="#2a0515" stroke="#2a0515" stroke-width="0.35">Sr</text>
<text transform="translate(322.80,250.30) scale(1.08,1.0)" font-family='"Liberation Serif", serif' font-size="8.5" font-weight="bold" fill="#3a0a1e" text-anchor="end" stroke="#3a0a1e" stroke-width="0.3">38</text>
<text transform="translate(323.00,257.90) scale(1.04,0.8)" font-family='"Liberation Serif", serif' font-size="8" font-weight="bold" fill="#3a0a1e" text-anchor="end" stroke="#3a0a1e" stroke-width="0.15">87,62</text>
<text transform="translate(270.50,265.50) scale(1.15,1.0)" font-family='"Liberation Serif", serif' font-size="7.3" font-weight="bold" fill="#4e0c22" stroke="#4e0c22" stroke-width="0.3">Стронций</text>
<text transform="translate(334.50,250.60) scale(1.06,1.0)" font-family='"Liberation Serif", serif' font-size="8.5" font-weight="bold" fill="#0a2540" stroke="#0a2540" stroke-width="0.3">39</text>
<text transform="translate(334.50,257.90) scale(1.04,0.8)" font-family='"Liberation Serif", serif' font-size="8" font-weight="bold" fill="#0a2540" stroke="#0a2540" stroke-width="0.15">88,905</text>
<text x="385.40" y="254.40" font-family='"Liberation Serif", serif' font-size="15.2" font-weight="bold" fill="#07213a" text-anchor="end" stroke="#07213a" stroke-width="0.35">Y</text>
<text transform="translate(385.60,265.40) scale(1.15,1.0)" font-family='"Liberation Serif", serif' font-size="7.3" font-weight="bold" fill="#0e3050" text-anchor="end" stroke="#0e3050" stroke-width="0.25">Иттрий</text>
<text transform="translate(398.30,250.60) scale(1.06,1.0)" font-family='"Liberation Serif", serif' font-size="8.5" font-weight="bold" fill="#0a2540" stroke="#0a2540" stroke-width="0.3">40</text>
<text transform="translate(398.30,257.90) scale(1.04,0.8)" font-family='"Liberation Serif", serif' font-size="8" font-weight="bold" fill="#0a2540" stroke="#0a2540" stroke-width="0.15">91,22</text>
<text x="449.40" y="254.40" font-family='"Liberation Serif", serif' font-size="15.2" font-weight="bold" fill="#07213a" text-anchor="end" stroke="#07213a" stroke-width="0.35">Zr</text>
<text transform="translate(449.60,265.40) scale(1.15,1.0)" font-family='"Liberation Serif", serif' font-size="7.3" font-weight="bold" fill="#0e3050" text-anchor="end" stroke="#0e3050" stroke-width="0.25">Цирконий</text>
<text transform="translate(462.30,250.60) scale(1.06,1.0)" font-family='"Liberation Serif", serif' font-size="8.5" font-weight="bold" fill="#0a2540" stroke="#0a2540" stroke-width="0.3">41</text>
<text transform="translate(462.30,257.90) scale(1.04,0.8)" font-family='"Liberation Serif", serif' font-size="8" font-weight="bold" fill="#0a2540" stroke="#0a2540" stroke-width="0.15">92,906</text>
<text x="513.00" y="254.40" font-family='"Liberation Serif", serif' font-size="15.2" font-weight="bold" fill="#07213a" text-anchor="end" stroke="#07213a" stroke-width="0.35">Nb</text>
<text transform="translate(513.20,265.40) scale(1.15,1.0)" font-family='"Liberation Serif", serif' font-size="7.3" font-weight="bold" fill="#0e3050" text-anchor="end" stroke="#0e3050" stroke-width="0.25">Ниобий</text>
<text transform="translate(525.90,250.60) scale(1.06,1.0)" font-family='"Liberation Serif", serif' font-size="8.5" font-weight="bold" fill="#0a2540" stroke="#0a2540" stroke-width="0.3">42</text>
<text transform="translate(525.90,257.90) scale(1.04,0.8)" font-family='"Liberation Serif", serif' font-size="8" font-weight="bold" fill="#0a2540" stroke="#0a2540" stroke-width="0.15">95,94</text>
<text x="576.50" y="254.40" font-family='"Liberation Serif", serif' font-size="15.2" font-weight="bold" fill="#07213a" text-anchor="end" stroke="#07213a" stroke-width="0.35">Mo</text>
<text transform="translate(576.70,265.40) scale(1.15,1.0)" font-family='"Liberation Serif", serif' font-size="7.3" font-weight="bold" fill="#0e3050" text-anchor="end" stroke="#0e3050" stroke-width="0.25">Молибден</text>
<text transform="translate(589.40,250.60) scale(1.06,1.0)" font-family='"Liberation Serif", serif' font-size="8.5" font-weight="bold" fill="#0a2540" stroke="#0a2540" stroke-width="0.3">43</text>
<text transform="translate(589.40,257.90) scale(1.04,0.8)" font-family='"Liberation Serif", serif' font-size="8" font-weight="bold" fill="#0a2540" stroke="#0a2540" stroke-width="0.15">[99]</text>
<text x="640.80" y="254.40" font-family='"Liberation Serif", serif' font-size="15.2" font-weight="bold" fill="#07213a" text-anchor="end" stroke="#07213a" stroke-width="0.35">Tc</text>
<text transform="translate(641.00,265.40) scale(1.15,1.0)" font-family='"Liberation Serif", serif' font-size="7.3" font-weight="bold" fill="#0e3050" text-anchor="end" stroke="#0e3050" stroke-width="0.25">Технеций</text>
<text transform="translate(653.70,250.60) scale(1.06,1.0)" font-family='"Liberation Serif", serif' font-size="8.5" font-weight="bold" fill="#0a2540" stroke="#0a2540" stroke-width="0.3">44</text>
<text transform="translate(653.70,257.90) scale(1.04,0.8)" font-family='"Liberation Serif", serif' font-size="8" font-weight="bold" fill="#0a2540" stroke="#0a2540" stroke-width="0.15">101,07</text>
<text x="704.10" y="254.40" font-family='"Liberation Serif", serif' font-size="15.2" font-weight="bold" fill="#07213a" text-anchor="end" stroke="#07213a" stroke-width="0.35">Ru</text>
<text transform="translate(704.30,265.40) scale(1.15,1.0)" font-family='"Liberation Serif", serif' font-size="7.3" font-weight="bold" fill="#0e3050" text-anchor="end" stroke="#0e3050" stroke-width="0.25">Рутений</text>
<text transform="translate(717.00,250.60) scale(1.06,1.0)" font-family='"Liberation Serif", serif' font-size="8.5" font-weight="bold" fill="#0a2540" stroke="#0a2540" stroke-width="0.3">45</text>
<text transform="translate(717.00,257.90) scale(1.04,0.8)" font-family='"Liberation Serif", serif' font-size="8" font-weight="bold" fill="#0a2540" stroke="#0a2540" stroke-width="0.15">102,905</text>
<text x="768.60" y="254.40" font-family='"Liberation Serif", serif' font-size="15.2" font-weight="bold" fill="#07213a" text-anchor="end" stroke="#07213a" stroke-width="0.35">Rh</text>
<text transform="translate(768.80,265.40) scale(1.15,1.0)" font-family='"Liberation Serif", serif' font-size="7.3" font-weight="bold" fill="#0e3050" text-anchor="end" stroke="#0e3050" stroke-width="0.25">Родий</text>
<text transform="translate(781.50,250.60) scale(1.06,1.0)" font-family='"Liberation Serif", serif' font-size="8.5" font-weight="bold" fill="#0a2540" stroke="#0a2540" stroke-width="0.3">46</text>
<text transform="translate(781.50,257.90) scale(1.04,0.8)" font-family='"Liberation Serif", serif' font-size="8" font-weight="bold" fill="#0a2540" stroke="#0a2540" stroke-width="0.15">106,4</text>
<text x="831.90" y="254.40" font-family='"Liberation Serif", serif' font-size="15.2" font-weight="bold" fill="#07213a" text-anchor="end" stroke="#07213a" stroke-width="0.35">Pd</text>
<text transform="translate(832.10,265.40) scale(1.15,1.0)" font-family='"Liberation Serif", serif' font-size="7.3" font-weight="bold" fill="#0e3050" text-anchor="end" stroke="#0e3050" stroke-width="0.25">Палладий</text>
<text transform="translate(206.90,281.70) scale(1.06,1.0)" font-family='"Liberation Serif", serif' font-size="8.5" font-weight="bold" fill="#0a2540" stroke="#0a2540" stroke-width="0.3">47</text>
<text transform="translate(206.90,289.00) scale(1.04,0.8)" font-family='"Liberation Serif", serif' font-size="8" font-weight="bold" fill="#0a2540" stroke="#0a2540" stroke-width="0.15">107,868</text>
<text x="258.00" y="285.50" font-family='"Liberation Serif", serif' font-size="15.2" font-weight="bold" fill="#07213a" text-anchor="end" stroke="#07213a" stroke-width="0.35">Ag</text>
<text transform="translate(258.20,296.50) scale(1.15,1.0)" font-family='"Liberation Serif", serif' font-size="7.3" font-weight="bold" fill="#0e3050" text-anchor="end" stroke="#0e3050" stroke-width="0.25">Серебро</text>
<text transform="translate(270.90,281.70) scale(1.06,1.0)" font-family='"Liberation Serif", serif' font-size="8.5" font-weight="bold" fill="#0a2540" stroke="#0a2540" stroke-width="0.3">48</text>
<text transform="translate(270.90,289.00) scale(1.04,0.8)" font-family='"Liberation Serif", serif' font-size="8" font-weight="bold" fill="#0a2540" stroke="#0a2540" stroke-width="0.15">112,40</text>
<text x="321.60" y="285.50" font-family='"Liberation Serif", serif' font-size="15.2" font-weight="bold" fill="#07213a" text-anchor="end" stroke="#07213a" stroke-width="0.35">Cd</text>
<text transform="translate(321.80,296.50) scale(1.15,1.0)" font-family='"Liberation Serif", serif' font-size="7.3" font-weight="bold" fill="#0e3050" text-anchor="end" stroke="#0e3050" stroke-width="0.25">Кадмий</text>
<text x="334.20" y="284.80" font-family='"Liberation Serif", serif' font-size="14.5" font-weight="bold" fill="#1a1604" stroke="#1a1604" stroke-width="0.35">In</text>
<text transform="translate(386.60,281.40) scale(1.08,1.0)" font-family='"Liberation Serif", serif' font-size="8.5" font-weight="bold" fill="#231e06" text-anchor="end" stroke="#231e06" stroke-width="0.3">49</text>
<text transform="translate(386.80,289.00) scale(1.04,0.8)" font-family='"Liberation Serif", serif' font-size="8" font-weight="bold" fill="#231e06" text-anchor="end" stroke="#231e06" stroke-width="0.15">114,82</text>
<text transform="translate(334.10,296.60) scale(1.15,1.0)" font-family='"Liberation Serif", serif' font-size="7.3" font-weight="bold" fill="#26220a" stroke="#26220a" stroke-width="0.3">Индий</text>
<text x="398.00" y="284.80" font-family='"Liberation Serif", serif' font-size="14.5" font-weight="bold" fill="#1a1604" stroke="#1a1604" stroke-width="0.35">Sn</text>
<text transform="translate(450.60,281.40) scale(1.08,1.0)" font-family='"Liberation Serif", serif' font-size="8.5" font-weight="bold" fill="#231e06" text-anchor="end" stroke="#231e06" stroke-width="0.3">50</text>
<text transform="translate(450.80,289.00) scale(1.04,0.8)" font-family='"Liberation Serif", serif' font-size="8" font-weight="bold" fill="#231e06" text-anchor="end" stroke="#231e06" stroke-width="0.15">118,69</text>
<text transform="translate(397.90,296.60) scale(1.15,1.0)" font-family='"Liberation Serif", serif' font-size="7.3" font-weight="bold" fill="#26220a" stroke="#26220a" stroke-width="0.3">Олово</text>
<text x="462.00" y="284.80" font-family='"Liberation Serif", serif' font-size="14.5" font-weight="bold" fill="#1a1604" stroke="#1a1604" stroke-width="0.35">Sb</text>
<text transform="translate(514.20,281.40) scale(1.08,1.0)" font-family='"Liberation Serif", serif' font-size="8.5" font-weight="bold" fill="#231e06" text-anchor="end" stroke="#231e06" stroke-width="0.3">51</text>
<text transform="translate(514.40,289.00) scale(1.04,0.8)" font-family='"Liberation Serif", serif' font-size="8" font-weight="bold" fill="#231e06" text-anchor="end" stroke="#231e06" stroke-width="0.15">121,75</text>
<text transform="translate(461.90,296.60) scale(1.15,1.0)" font-family='"Liberation Serif", serif' font-size="7.3" font-weight="bold" fill="#26220a" stroke="#26220a" stroke-width="0.3">Сурьма</text>
<text x="525.60" y="284.80" font-family='"Liberation Serif", serif' font-size="14.5" font-weight="bold" fill="#1a1604" stroke="#1a1604" stroke-width="0.35">Te</text>
<text transform="translate(577.70,281.40) scale(1.08,1.0)" font-family='"Liberation Serif", serif' font-size="8.5" font-weight="bold" fill="#231e06" text-anchor="end" stroke="#231e06" stroke-width="0.3">52</text>
<text transform="translate(577.90,289.00) scale(1.04,0.8)" font-family='"Liberation Serif", serif' font-size="8" font-weight="bold" fill="#231e06" text-anchor="end" stroke="#231e06" stroke-width="0.15">127,60</text>
<text transform="translate(525.50,296.60) scale(1.15,1.0)" font-family='"Liberation Serif", serif' font-size="7.3" font-weight="bold" fill="#26220a" stroke="#26220a" stroke-width="0.3">Теллур</text>
<text x="589.10" y="284.80" font-family='"Liberation Serif", serif' font-size="14.5" font-weight="bold" fill="#1a1604" stroke="#1a1604" stroke-width="0.35">I</text>
<text transform="translate(642.00,281.40) scale(1.08,1.0)" font-family='"Liberation Serif", serif' font-size="8.5" font-weight="bold" fill="#231e06" text-anchor="end" stroke="#231e06" stroke-width="0.3">53</text>
<text transform="translate(642.20,289.00) scale(1.04,0.8)" font-family='"Liberation Serif", serif' font-size="8" font-weight="bold" fill="#231e06" text-anchor="end" stroke="#231e06" stroke-width="0.15">126,9044</text>
<text transform="translate(589.00,296.60) scale(1.15,1.0)" font-family='"Liberation Serif", serif' font-size="7.3" font-weight="bold" fill="#26220a" stroke="#26220a" stroke-width="0.3">Иод</text>
<text x="653.40" y="284.80" font-family='"Liberation Serif", serif' font-size="14.5" font-weight="bold" fill="#1a1604" stroke="#1a1604" stroke-width="0.35">Xe</text>
<text transform="translate(705.30,281.40) scale(1.08,1.0)" font-family='"Liberation Serif", serif' font-size="8.5" font-weight="bold" fill="#231e06" text-anchor="end" stroke="#231e06" stroke-width="0.3">54</text>
<text transform="translate(705.50,289.00) scale(1.04,0.8)" font-family='"Liberation Serif", serif' font-size="8" font-weight="bold" fill="#231e06" text-anchor="end" stroke="#231e06" stroke-width="0.15">131,30</text>
<text transform="translate(653.30,296.60) scale(1.15,1.0)" font-family='"Liberation Serif", serif' font-size="7.3" font-weight="bold" fill="#26220a" stroke="#26220a" stroke-width="0.3">Ксенон</text>
<text x="206.60" y="316.20" font-family='"Liberation Serif", serif' font-size="14.5" font-weight="bold" fill="#2a0515" stroke="#2a0515" stroke-width="0.35">Cs</text>
<text transform="translate(259.20,312.80) scale(1.08,1.0)" font-family='"Liberation Serif", serif' font-size="8.5" font-weight="bold" fill="#3a0a1e" text-anchor="end" stroke="#3a0a1e" stroke-width="0.3">55</text>
<text transform="translate(259.40,320.40) scale(1.04,0.8)" font-family='"Liberation Serif", serif' font-size="8" font-weight="bold" fill="#3a0a1e" text-anchor="end" stroke="#3a0a1e" stroke-width="0.15">132,905</text>
<text transform="translate(206.50,328.00) scale(1.15,1.0)" font-family='"Liberation Serif", serif' font-size="7.3" font-weight="bold" fill="#4e0c22" stroke="#4e0c22" stroke-width="0.3">Цезий</text>
<text x="270.60" y="316.20" font-family='"Liberation Serif", serif' font-size="14.5" font-weight="bold" fill="#2a0515" stroke="#2a0515" stroke-width="0.35">Ba</text>
<text transform="translate(322.80,312.80) scale(1.08,1.0)" font-family='"Liberation Serif", serif' font-size="8.5" font-weight="bold" fill="#3a0a1e" text-anchor="end" stroke="#3a0a1e" stroke-width="0.3">56</text>
<text transform="translate(323.00,320.40) scale(1.04,0.8)" font-family='"Liberation Serif", serif' font-size="8" font-weight="bold" fill="#3a0a1e" text-anchor="end" stroke="#3a0a1e" stroke-width="0.15">137,34</text>
<text transform="translate(270.50,328.00) scale(1.15,1.0)" font-family='"Liberation Serif", serif' font-size="7.3" font-weight="bold" fill="#4e0c22" stroke="#4e0c22" stroke-width="0.3">Барий</text>
<text transform="translate(334.50,313.10) scale(1.06,1.0)" font-family='"Liberation Serif", serif' font-size="8.5" font-weight="bold" fill="#123a06" stroke="#123a06" stroke-width="0.3">57</text>
<text transform="translate(334.50,320.40) scale(1.04,0.8)" font-family='"Liberation Serif", serif' font-size="8" font-weight="bold" fill="#123a06" stroke="#123a06" stroke-width="0.15">138,91</text>
<text x="385.40" y="313.40" font-family='"Liberation Serif", serif' font-size="9" font-weight="bold" fill="#0b2a02" text-anchor="end">*</text>
<text x="381.20" y="316.90" font-family='"Liberation Serif", serif' font-size="15.2" font-weight="bold" fill="#0b2a02" text-anchor="end" stroke="#0b2a02" stroke-width="0.35">La</text>
<text transform="translate(385.60,327.90) scale(1.15,1.0)" font-family='"Liberation Serif", serif' font-size="7.3" font-weight="bold" fill="#123a06" text-anchor="end" stroke="#123a06" stroke-width="0.3">Лантан</text>
<text transform="translate(398.30,313.10) scale(1.06,1.0)" font-family='"Liberation Serif", serif' font-size="8.5" font-weight="bold" fill="#0a2540" stroke="#0a2540" stroke-width="0.3">72</text>
<text transform="translate(398.30,320.40) scale(1.04,0.8)" font-family='"Liberation Serif", serif' font-size="8" font-weight="bold" fill="#0a2540" stroke="#0a2540" stroke-width="0.15">178,49</text>
<text x="449.40" y="316.90" font-family='"Liberation Serif", serif' font-size="15.2" font-weight="bold" fill="#07213a" text-anchor="end" stroke="#07213a" stroke-width="0.35">Hf</text>
<text transform="translate(449.60,327.90) scale(1.15,1.0)" font-family='"Liberation Serif", serif' font-size="7.3" font-weight="bold" fill="#0e3050" text-anchor="end" stroke="#0e3050" stroke-width="0.25">Гафний</text>
<text transform="translate(462.30,313.10) scale(1.06,1.0)" font-family='"Liberation Serif", serif' font-size="8.5" font-weight="bold" fill="#0a2540" stroke="#0a2540" stroke-width="0.3">73</text>
<text transform="translate(462.30,320.40) scale(1.04,0.8)" font-family='"Liberation Serif", serif' font-size="8" font-weight="bold" fill="#0a2540" stroke="#0a2540" stroke-width="0.15">180,948</text>
<text x="513.00" y="316.90" font-family='"Liberation Serif", serif' font-size="15.2" font-weight="bold" fill="#07213a" text-anchor="end" stroke="#07213a" stroke-width="0.35">Ta</text>
<text transform="translate(513.20,327.90) scale(1.15,1.0)" font-family='"Liberation Serif", serif' font-size="7.3" font-weight="bold" fill="#0e3050" text-anchor="end" stroke="#0e3050" stroke-width="0.25">Тантал</text>
<text transform="translate(525.90,313.10) scale(1.06,1.0)" font-family='"Liberation Serif", serif' font-size="8.5" font-weight="bold" fill="#0a2540" stroke="#0a2540" stroke-width="0.3">74</text>
<text transform="translate(525.90,320.40) scale(1.04,0.8)" font-family='"Liberation Serif", serif' font-size="8" font-weight="bold" fill="#0a2540" stroke="#0a2540" stroke-width="0.15">183,85</text>
<text x="576.50" y="316.90" font-family='"Liberation Serif", serif' font-size="15.2" font-weight="bold" fill="#07213a" text-anchor="end" stroke="#07213a" stroke-width="0.35">W</text>
<text transform="translate(576.70,327.90) scale(1.15,1.0)" font-family='"Liberation Serif", serif' font-size="7.3" font-weight="bold" fill="#0e3050" text-anchor="end" stroke="#0e3050" stroke-width="0.25">Вольфрам</text>
<text transform="translate(589.40,313.10) scale(1.06,1.0)" font-family='"Liberation Serif", serif' font-size="8.5" font-weight="bold" fill="#0a2540" stroke="#0a2540" stroke-width="0.3">75</text>
<text transform="translate(589.40,320.40) scale(1.04,0.8)" font-family='"Liberation Serif", serif' font-size="8" font-weight="bold" fill="#0a2540" stroke="#0a2540" stroke-width="0.15">186,2</text>
<text x="640.80" y="316.90" font-family='"Liberation Serif", serif' font-size="15.2" font-weight="bold" fill="#07213a" text-anchor="end" stroke="#07213a" stroke-width="0.35">Re</text>
<text transform="translate(641.00,327.90) scale(1.15,1.0)" font-family='"Liberation Serif", serif' font-size="7.3" font-weight="bold" fill="#0e3050" text-anchor="end" stroke="#0e3050" stroke-width="0.25">Рений</text>
<text transform="translate(653.70,313.10) scale(1.06,1.0)" font-family='"Liberation Serif", serif' font-size="8.5" font-weight="bold" fill="#0a2540" stroke="#0a2540" stroke-width="0.3">76</text>
<text transform="translate(653.70,320.40) scale(1.04,0.8)" font-family='"Liberation Serif", serif' font-size="8" font-weight="bold" fill="#0a2540" stroke="#0a2540" stroke-width="0.15">190,2</text>
<text x="704.10" y="316.90" font-family='"Liberation Serif", serif' font-size="15.2" font-weight="bold" fill="#07213a" text-anchor="end" stroke="#07213a" stroke-width="0.35">Os</text>
<text transform="translate(704.30,327.90) scale(1.15,1.0)" font-family='"Liberation Serif", serif' font-size="7.3" font-weight="bold" fill="#0e3050" text-anchor="end" stroke="#0e3050" stroke-width="0.25">Осмий</text>
<text transform="translate(717.00,313.10) scale(1.06,1.0)" font-family='"Liberation Serif", serif' font-size="8.5" font-weight="bold" fill="#0a2540" stroke="#0a2540" stroke-width="0.3">77</text>
<text transform="translate(717.00,320.40) scale(1.04,0.8)" font-family='"Liberation Serif", serif' font-size="8" font-weight="bold" fill="#0a2540" stroke="#0a2540" stroke-width="0.15">192,2</text>
<text x="768.60" y="316.90" font-family='"Liberation Serif", serif' font-size="15.2" font-weight="bold" fill="#07213a" text-anchor="end" stroke="#07213a" stroke-width="0.35">Ir</text>
<text transform="translate(768.80,327.90) scale(1.15,1.0)" font-family='"Liberation Serif", serif' font-size="7.3" font-weight="bold" fill="#0e3050" text-anchor="end" stroke="#0e3050" stroke-width="0.25">Иридий</text>
<text transform="translate(781.50,313.10) scale(1.06,1.0)" font-family='"Liberation Serif", serif' font-size="8.5" font-weight="bold" fill="#0a2540" stroke="#0a2540" stroke-width="0.3">78</text>
<text transform="translate(781.50,320.40) scale(1.04,0.8)" font-family='"Liberation Serif", serif' font-size="8" font-weight="bold" fill="#0a2540" stroke="#0a2540" stroke-width="0.15">195,09</text>
<text x="831.90" y="316.90" font-family='"Liberation Serif", serif' font-size="15.2" font-weight="bold" fill="#07213a" text-anchor="end" stroke="#07213a" stroke-width="0.35">Pt</text>
<text transform="translate(832.10,327.90) scale(1.15,1.0)" font-family='"Liberation Serif", serif' font-size="7.3" font-weight="bold" fill="#0e3050" text-anchor="end" stroke="#0e3050" stroke-width="0.25">Платина</text>
<text transform="translate(206.90,343.80) scale(1.06,1.0)" font-family='"Liberation Serif", serif' font-size="8.5" font-weight="bold" fill="#0a2540" stroke="#0a2540" stroke-width="0.3">79</text>
<text transform="translate(206.90,351.10) scale(1.04,0.8)" font-family='"Liberation Serif", serif' font-size="8" font-weight="bold" fill="#0a2540" stroke="#0a2540" stroke-width="0.15">196,967</text>
<text x="258.00" y="347.60" font-family='"Liberation Serif", serif' font-size="15.2" font-weight="bold" fill="#07213a" text-anchor="end" stroke="#07213a" stroke-width="0.35">Au</text>
<text transform="translate(258.20,358.60) scale(1.15,1.0)" font-family='"Liberation Serif", serif' font-size="7.3" font-weight="bold" fill="#0e3050" text-anchor="end" stroke="#0e3050" stroke-width="0.25">Золото</text>
<text transform="translate(270.90,343.80) scale(1.06,1.0)" font-family='"Liberation Serif", serif' font-size="8.5" font-weight="bold" fill="#0a2540" stroke="#0a2540" stroke-width="0.3">80</text>
<text transform="translate(270.90,351.10) scale(1.04,0.8)" font-family='"Liberation Serif", serif' font-size="8" font-weight="bold" fill="#0a2540" stroke="#0a2540" stroke-width="0.15">200,59</text>
<text x="321.60" y="347.60" font-family='"Liberation Serif", serif' font-size="15.2" font-weight="bold" fill="#07213a" text-anchor="end" stroke="#07213a" stroke-width="0.35">Hg</text>
<text transform="translate(321.80,358.60) scale(1.15,1.0)" font-family='"Liberation Serif", serif' font-size="7.3" font-weight="bold" fill="#0e3050" text-anchor="end" stroke="#0e3050" stroke-width="0.25">Ртуть</text>
<text x="334.20" y="346.90" font-family='"Liberation Serif", serif' font-size="14.5" font-weight="bold" fill="#1a1604" stroke="#1a1604" stroke-width="0.35">Tl</text>
<text transform="translate(386.60,343.50) scale(1.08,1.0)" font-family='"Liberation Serif", serif' font-size="8.5" font-weight="bold" fill="#231e06" text-anchor="end" stroke="#231e06" stroke-width="0.3">81</text>
<text transform="translate(386.80,351.10) scale(1.04,0.8)" font-family='"Liberation Serif", serif' font-size="8" font-weight="bold" fill="#231e06" text-anchor="end" stroke="#231e06" stroke-width="0.15">204,37</text>
<text transform="translate(334.10,358.70) scale(1.15,1.0)" font-family='"Liberation Serif", serif' font-size="7.3" font-weight="bold" fill="#26220a" stroke="#26220a" stroke-width="0.3">Таллий</text>
<text x="398.00" y="346.90" font-family='"Liberation Serif", serif' font-size="14.5" font-weight="bold" fill="#1a1604" stroke="#1a1604" stroke-width="0.35">Pb</text>
<text transform="translate(450.60,343.50) scale(1.08,1.0)" font-family='"Liberation Serif", serif' font-size="8.5" font-weight="bold" fill="#231e06" text-anchor="end" stroke="#231e06" stroke-width="0.3">82</text>
<text transform="translate(450.80,351.10) scale(1.04,0.8)" font-family='"Liberation Serif", serif' font-size="8" font-weight="bold" fill="#231e06" text-anchor="end" stroke="#231e06" stroke-width="0.15">207,19</text>
<text transform="translate(397.90,358.70) scale(1.15,1.0)" font-family='"Liberation Serif", serif' font-size="7.3" font-weight="bold" fill="#26220a" stroke="#26220a" stroke-width="0.3">Свинец</text>
<text x="462.00" y="346.90" font-family='"Liberation Serif", serif' font-size="14.5" font-weight="bold" fill="#1a1604" stroke="#1a1604" stroke-width="0.35">Bi</text>
<text transform="translate(514.20,343.50) scale(1.08,1.0)" font-family='"Liberation Serif", serif' font-size="8.5" font-weight="bold" fill="#231e06" text-anchor="end" stroke="#231e06" stroke-width="0.3">83</text>
<text transform="translate(514.40,351.10) scale(1.04,0.8)" font-family='"Liberation Serif", serif' font-size="8" font-weight="bold" fill="#231e06" text-anchor="end" stroke="#231e06" stroke-width="0.15">208,980</text>
<text transform="translate(461.90,358.70) scale(1.15,1.0)" font-family='"Liberation Serif", serif' font-size="7.3" font-weight="bold" fill="#26220a" stroke="#26220a" stroke-width="0.3">Висмут</text>
<text x="525.60" y="346.90" font-family='"Liberation Serif", serif' font-size="14.5" font-weight="bold" fill="#1a1604" stroke="#1a1604" stroke-width="0.35">Po</text>
<text transform="translate(577.70,343.50) scale(1.08,1.0)" font-family='"Liberation Serif", serif' font-size="8.5" font-weight="bold" fill="#231e06" text-anchor="end" stroke="#231e06" stroke-width="0.3">84</text>
<text transform="translate(577.90,351.10) scale(1.04,0.8)" font-family='"Liberation Serif", serif' font-size="8" font-weight="bold" fill="#231e06" text-anchor="end" stroke="#231e06" stroke-width="0.15">[210]*</text>
<text transform="translate(525.50,358.70) scale(1.15,1.0)" font-family='"Liberation Serif", serif' font-size="7.3" font-weight="bold" fill="#26220a" stroke="#26220a" stroke-width="0.3">Полоний</text>
<text x="589.10" y="346.90" font-family='"Liberation Serif", serif' font-size="14.5" font-weight="bold" fill="#1a1604" stroke="#1a1604" stroke-width="0.35">At</text>
<text transform="translate(642.00,343.50) scale(1.08,1.0)" font-family='"Liberation Serif", serif' font-size="8.5" font-weight="bold" fill="#231e06" text-anchor="end" stroke="#231e06" stroke-width="0.3">85</text>
<text transform="translate(642.20,351.10) scale(1.04,0.8)" font-family='"Liberation Serif", serif' font-size="8" font-weight="bold" fill="#231e06" text-anchor="end" stroke="#231e06" stroke-width="0.15">[210]</text>
<text transform="translate(589.00,358.70) scale(1.15,1.0)" font-family='"Liberation Serif", serif' font-size="7.3" font-weight="bold" fill="#26220a" stroke="#26220a" stroke-width="0.3">Астат</text>
<text x="653.40" y="346.90" font-family='"Liberation Serif", serif' font-size="14.5" font-weight="bold" fill="#1a1604" stroke="#1a1604" stroke-width="0.35">Rn</text>
<text transform="translate(705.30,343.50) scale(1.08,1.0)" font-family='"Liberation Serif", serif' font-size="8.5" font-weight="bold" fill="#231e06" text-anchor="end" stroke="#231e06" stroke-width="0.3">86</text>
<text transform="translate(705.50,351.10) scale(1.04,0.8)" font-family='"Liberation Serif", serif' font-size="8" font-weight="bold" fill="#231e06" text-anchor="end" stroke="#231e06" stroke-width="0.15">[222]</text>
<text transform="translate(653.30,358.70) scale(1.15,1.0)" font-family='"Liberation Serif", serif' font-size="7.3" font-weight="bold" fill="#26220a" stroke="#26220a" stroke-width="0.3">Радон</text>
<text x="206.60" y="381.10" font-family='"Liberation Serif", serif' font-size="14.5" font-weight="bold" fill="#2a0515" stroke="#2a0515" stroke-width="0.35">Fr</text>
<text transform="translate(259.20,377.70) scale(1.08,1.0)" font-family='"Liberation Serif", serif' font-size="8.5" font-weight="bold" fill="#3a0a1e" text-anchor="end" stroke="#3a0a1e" stroke-width="0.3">87</text>
<text transform="translate(259.40,385.30) scale(1.04,0.8)" font-family='"Liberation Serif", serif' font-size="8" font-weight="bold" fill="#3a0a1e" text-anchor="end" stroke="#3a0a1e" stroke-width="0.15">[223]</text>
<text transform="translate(206.50,392.90) scale(1.15,1.0)" font-family='"Liberation Serif", serif' font-size="7.3" font-weight="bold" fill="#4e0c22" stroke="#4e0c22" stroke-width="0.3">Франций</text>
<text x="270.60" y="381.10" font-family='"Liberation Serif", serif' font-size="14.5" font-weight="bold" fill="#2a0515" stroke="#2a0515" stroke-width="0.35">Ra</text>
<text transform="translate(322.80,377.70) scale(1.08,1.0)" font-family='"Liberation Serif", serif' font-size="8.5" font-weight="bold" fill="#3a0a1e" text-anchor="end" stroke="#3a0a1e" stroke-width="0.3">88</text>
<text transform="translate(323.00,385.30) scale(1.04,0.8)" font-family='"Liberation Serif", serif' font-size="8" font-weight="bold" fill="#3a0a1e" text-anchor="end" stroke="#3a0a1e" stroke-width="0.15">[226]</text>
<text transform="translate(270.50,392.90) scale(1.15,1.0)" font-family='"Liberation Serif", serif' font-size="7.3" font-weight="bold" fill="#4e0c22" stroke="#4e0c22" stroke-width="0.3">Радий</text>
<text transform="translate(334.50,378.00) scale(1.06,1.0)" font-family='"Liberation Serif", serif' font-size="8.5" font-weight="bold" fill="#123a06" stroke="#123a06" stroke-width="0.3">89</text>
<text transform="translate(334.50,385.30) scale(1.04,0.8)" font-family='"Liberation Serif", serif' font-size="8" font-weight="bold" fill="#123a06" stroke="#123a06" stroke-width="0.15">[227]</text>
<text x="385.40" y="378.30" font-family='"Liberation Serif", serif' font-size="9" font-weight="bold" fill="#0b2a02" text-anchor="end">**</text>
<text x="377.00" y="381.80" font-family='"Liberation Serif", serif' font-size="15.2" font-weight="bold" fill="#0b2a02" text-anchor="end" stroke="#0b2a02" stroke-width="0.35">Ac</text>
<text transform="translate(385.60,392.80) scale(1.15,1.0)" font-family='"Liberation Serif", serif' font-size="7.3" font-weight="bold" fill="#123a06" text-anchor="end" stroke="#123a06" stroke-width="0.3">Актиний</text>
<text transform="translate(398.30,378.00) scale(1.06,1.0)" font-family='"Liberation Serif", serif' font-size="8.5" font-weight="bold" fill="#0a2540" stroke="#0a2540" stroke-width="0.3">104</text>
<text transform="translate(398.30,385.30) scale(1.04,0.8)" font-family='"Liberation Serif", serif' font-size="8" font-weight="bold" fill="#0a2540" stroke="#0a2540" stroke-width="0.15">[261]</text>
<text x="449.40" y="381.80" font-family='"Liberation Serif", serif' font-size="15.2" font-weight="bold" fill="#07213a" text-anchor="end" stroke="#07213a" stroke-width="0.35">Rf</text>
<text x="449.90" y="392.80" font-family='"Liberation Serif", serif' font-size="7.2" font-weight="bold" fill="#0e3050" text-anchor="end" textLength="48.9" lengthAdjust="spacingAndGlyphs">Резерфордий</text>
<text transform="translate(462.30,378.00) scale(1.06,1.0)" font-family='"Liberation Serif", serif' font-size="8.5" font-weight="bold" fill="#0a2540" stroke="#0a2540" stroke-width="0.3">105</text>
<text transform="translate(462.30,385.30) scale(1.04,0.8)" font-family='"Liberation Serif", serif' font-size="8" font-weight="bold" fill="#0a2540" stroke="#0a2540" stroke-width="0.15">[262]</text>
<text x="513.00" y="381.80" font-family='"Liberation Serif", serif' font-size="15.2" font-weight="bold" fill="#07213a" text-anchor="end" stroke="#07213a" stroke-width="0.35">Db</text>
<text transform="translate(513.20,392.80) scale(1.15,1.0)" font-family='"Liberation Serif", serif' font-size="7.3" font-weight="bold" fill="#0e3050" text-anchor="end" stroke="#0e3050" stroke-width="0.25">Дубний</text>
<text transform="translate(525.90,378.00) scale(1.06,1.0)" font-family='"Liberation Serif", serif' font-size="8.5" font-weight="bold" fill="#0a2540" stroke="#0a2540" stroke-width="0.3">106</text>
<text transform="translate(525.90,385.30) scale(1.04,0.8)" font-family='"Liberation Serif", serif' font-size="8" font-weight="bold" fill="#0a2540" stroke="#0a2540" stroke-width="0.15">[263]</text>
<text x="576.50" y="381.80" font-family='"Liberation Serif", serif' font-size="15.2" font-weight="bold" fill="#07213a" text-anchor="end" stroke="#07213a" stroke-width="0.35">Sg</text>
<text transform="translate(576.70,392.80) scale(1.15,1.0)" font-family='"Liberation Serif", serif' font-size="7.3" font-weight="bold" fill="#0e3050" text-anchor="end" stroke="#0e3050" stroke-width="0.25">Сиборгий</text>
<text transform="translate(589.40,378.00) scale(1.06,1.0)" font-family='"Liberation Serif", serif' font-size="8.5" font-weight="bold" fill="#0a2540" stroke="#0a2540" stroke-width="0.3">107</text>
<text transform="translate(589.40,385.30) scale(1.04,0.8)" font-family='"Liberation Serif", serif' font-size="8" font-weight="bold" fill="#0a2540" stroke="#0a2540" stroke-width="0.15">[262]</text>
<text x="640.80" y="381.80" font-family='"Liberation Serif", serif' font-size="15.2" font-weight="bold" fill="#07213a" text-anchor="end" stroke="#07213a" stroke-width="0.35">Bh</text>
<text transform="translate(641.00,392.80) scale(1.15,1.0)" font-family='"Liberation Serif", serif' font-size="7.3" font-weight="bold" fill="#0e3050" text-anchor="end" stroke="#0e3050" stroke-width="0.25">Борий</text>
<text transform="translate(653.70,378.00) scale(1.06,1.0)" font-family='"Liberation Serif", serif' font-size="8.5" font-weight="bold" fill="#0a2540" stroke="#0a2540" stroke-width="0.3">108</text>
<text transform="translate(653.70,385.30) scale(1.04,0.8)" font-family='"Liberation Serif", serif' font-size="8" font-weight="bold" fill="#0a2540" stroke="#0a2540" stroke-width="0.15">[265]</text>
<text x="704.10" y="381.80" font-family='"Liberation Serif", serif' font-size="15.2" font-weight="bold" fill="#07213a" text-anchor="end" stroke="#07213a" stroke-width="0.35">Hs</text>
<text transform="translate(704.30,392.80) scale(1.15,1.0)" font-family='"Liberation Serif", serif' font-size="7.3" font-weight="bold" fill="#0e3050" text-anchor="end" stroke="#0e3050" stroke-width="0.25">Хассий</text>
<text transform="translate(717.00,378.00) scale(1.06,1.0)" font-family='"Liberation Serif", serif' font-size="8.5" font-weight="bold" fill="#0a2540" stroke="#0a2540" stroke-width="0.3">109</text>
<text transform="translate(717.00,385.30) scale(1.04,0.8)" font-family='"Liberation Serif", serif' font-size="8" font-weight="bold" fill="#0a2540" stroke="#0a2540" stroke-width="0.15">[266]</text>
<text x="768.60" y="381.80" font-family='"Liberation Serif", serif' font-size="15.2" font-weight="bold" fill="#07213a" text-anchor="end" stroke="#07213a" stroke-width="0.35">Mt</text>
<text transform="translate(768.80,392.80) scale(1.15,1.0)" font-family='"Liberation Serif", serif' font-size="7.3" font-weight="bold" fill="#0e3050" text-anchor="end" stroke="#0e3050" stroke-width="0.25">Майтнерий</text>
<text transform="translate(781.50,378.00) scale(1.06,1.0)" font-family='"Liberation Serif", serif' font-size="8.5" font-weight="bold" fill="#0a2540" stroke="#0a2540" stroke-width="0.3">110</text>
<text transform="translate(781.50,385.30) scale(1.04,0.8)" font-family='"Liberation Serif", serif' font-size="8" font-weight="bold" fill="#0a2540" stroke="#0a2540" stroke-width="0.15">[271]</text>
<text x="834.40" y="381.80" font-family='"Liberation Serif", serif' font-size="15.2" font-weight="bold" fill="#07213a" text-anchor="end" stroke="#07213a" stroke-width="0.35">Ds</text>
<text x="825.30" y="392.80" font-family='"Liberation Sans", sans-serif' font-size="6.2" font-weight="bold" fill="#0e3050" text-anchor="end" textLength="44.1" lengthAdjust="spacingAndGlyphs">Дармштадтий</text>
<text transform="translate(206.00,408.00) scale(1.1,1.0)" font-family='"Liberation Sans", sans-serif' font-size="8" font-weight="bold" fill="#0a2540">111</text>
<text transform="translate(206.00,416.20) scale(1.05,1.0)" font-family='"Liberation Sans", sans-serif' font-size="7.5" font-weight="bold" fill="#0a2540">[272]</text>
<text transform="translate(257.50,411.80) scale(1.03,1.0)" font-family='"Liberation Serif", serif' font-size="15" font-weight="bold" fill="#07213a" text-anchor="end">Rg</text>
<text transform="translate(262.50,423.00) scale(1.25,1.0)" font-family='"Liberation Sans", sans-serif' font-size="5.6" font-weight="bold" fill="#0e3050" text-anchor="end">Рентгений</text>
<text transform="translate(270.00,408.00) scale(1.1,1.0)" font-family='"Liberation Sans", sans-serif' font-size="8" font-weight="bold" fill="#0a2540">112</text>
<text transform="translate(270.00,416.20) scale(1.05,1.0)" font-family='"Liberation Sans", sans-serif' font-size="7.5" font-weight="bold" fill="#0a2540">[285]</text>
<text transform="translate(321.10,411.80) scale(1.03,1.0)" font-family='"Liberation Serif", serif' font-size="15" font-weight="bold" fill="#07213a" text-anchor="end">Cn</text>
<text transform="translate(326.10,423.00) scale(1.25,1.0)" font-family='"Liberation Sans", sans-serif' font-size="5.6" font-weight="bold" fill="#0e3050" text-anchor="end">Коперниций</text>
<text x="334.20" y="411.70" font-family='"Liberation Sans", sans-serif' font-size="13.5" font-weight="bold" fill="#1a1604">Nh</text>
<text transform="translate(388.90,407.70) scale(1.1,1.0)" font-family='"Liberation Sans", sans-serif' font-size="8" font-weight="bold" fill="#231e06" text-anchor="end">113</text>
<text transform="translate(390.50,415.90) scale(1.05,1.0)" font-family='"Liberation Sans", sans-serif' font-size="7.5" font-weight="bold" fill="#231e06" text-anchor="end">[286]</text>
<text transform="translate(333.20,423.00) scale(1.3,1.0)" font-family='"Liberation Sans", sans-serif' font-size="5.6" font-weight="bold" fill="#26220a">Нихоний</text>
<text transform="translate(398.00,411.70) scale(1.04,1.0)" font-family='"Liberation Serif", serif' font-size="14.5" font-weight="bold" fill="#1a1604">Fl</text>
<text transform="translate(451.10,406.90) scale(1.1,1.0)" font-family='"Liberation Sans", sans-serif' font-size="8" font-weight="bold" fill="#231e06" text-anchor="end">114</text>
<text transform="translate(397.00,423.00) scale(1.3,1.0)" font-family='"Liberation Sans", sans-serif' font-size="5.6" font-weight="bold" fill="#26220a">Флеровий</text>
<text x="462.00" y="411.70" font-family='"Liberation Sans", sans-serif' font-size="13.5" font-weight="bold" fill="#1a1604">Mc</text>
<text transform="translate(516.90,406.90) scale(1.1,1.0)" font-family='"Liberation Sans", sans-serif' font-size="8" font-weight="bold" fill="#231e06" text-anchor="end">115</text>
<text transform="translate(461.00,423.00) scale(1.3,1.0)" font-family='"Liberation Sans", sans-serif' font-size="5.6" font-weight="bold" fill="#26220a">Московий</text>
<text transform="translate(525.60,411.70) scale(1.04,1.0)" font-family='"Liberation Serif", serif' font-size="14.5" font-weight="bold" fill="#1a1604">Lv</text>
<text transform="translate(579.80,406.90) scale(1.1,1.0)" font-family='"Liberation Sans", sans-serif' font-size="8" font-weight="bold" fill="#231e06" text-anchor="end">116</text>
<text transform="translate(524.60,423.00) scale(1.3,1.0)" font-family='"Liberation Sans", sans-serif' font-size="5.6" font-weight="bold" fill="#26220a">Ливерморий</text>
<text x="589.10" y="411.70" font-family='"Liberation Sans", sans-serif' font-size="13.5" font-weight="bold" fill="#1a1604">Ts</text>
<text transform="translate(644.90,406.90) scale(1.1,1.0)" font-family='"Liberation Sans", sans-serif' font-size="8" font-weight="bold" fill="#231e06" text-anchor="end">117</text>
<text transform="translate(588.10,423.00) scale(1.3,1.0)" font-family='"Liberation Sans", sans-serif' font-size="5.6" font-weight="bold" fill="#26220a">Теннессин</text>
<text x="653.40" y="411.70" font-family='"Liberation Sans", sans-serif' font-size="13.5" font-weight="bold" fill="#1a1604">Og</text>
<text transform="translate(710.30,406.90) scale(1.1,1.0)" font-family='"Liberation Sans", sans-serif' font-size="8" font-weight="bold" fill="#231e06" text-anchor="end">118</text>
<text transform="translate(710.70,414.70) scale(1.05,1.0)" font-family='"Liberation Sans", sans-serif' font-size="7.5" font-weight="bold" fill="#231e06" text-anchor="end">[294]</text>
<text transform="translate(652.40,423.00) scale(1.3,1.0)" font-family='"Liberation Sans", sans-serif' font-size="5.6" font-weight="bold" fill="#26220a">Оганесон</text>
<text x="589.10" y="98.30" font-family='"Liberation Serif", serif' font-size="14.5" font-weight="bold" fill="#2a0515" stroke="#2a0515" stroke-width="0.35">H</text>
<text transform="translate(642.00,94.90) scale(1.08,1.0)" font-family='"Liberation Serif", serif' font-size="8.5" font-weight="bold" fill="#3a0a1e" text-anchor="end" stroke="#3a0a1e" stroke-width="0.3">1</text>
<text transform="translate(642.20,102.50) scale(1.04,0.8)" font-family='"Liberation Serif", serif' font-size="8" font-weight="bold" fill="#3a0a1e" text-anchor="end" stroke="#3a0a1e" stroke-width="0.15">1,00797</text>
<text transform="translate(589.00,110.10) scale(1.15,1.0)" font-family='"Liberation Serif", serif' font-size="7.3" font-weight="bold" fill="#4e0c22" stroke="#4e0c22" stroke-width="0.3">Водород</text>
<text x="653.40" y="98.30" font-family='"Liberation Serif", serif' font-size="14.5" font-weight="bold" fill="#2a0515" stroke="#2a0515" stroke-width="0.35">He</text>
<text transform="translate(705.30,94.90) scale(1.08,1.0)" font-family='"Liberation Serif", serif' font-size="8.5" font-weight="bold" fill="#3a0a1e" text-anchor="end" stroke="#3a0a1e" stroke-width="0.3">2</text>
<text transform="translate(705.50,102.50) scale(1.04,0.8)" font-family='"Liberation Serif", serif' font-size="8" font-weight="bold" fill="#3a0a1e" text-anchor="end" stroke="#3a0a1e" stroke-width="0.15">4,0026</text>
<text transform="translate(653.30,110.10) scale(1.15,1.0)" font-family='"Liberation Serif", serif' font-size="7.3" font-weight="bold" fill="#4e0c22" stroke="#4e0c22" stroke-width="0.3">Гелий</text>
<text transform="translate(263.30,101.80) scale(1.05,1.0)" font-family='"Liberation Serif", serif' font-size="14.5" font-weight="bold" fill="#2a0515" text-anchor="end" stroke="#2a0515" stroke-width="0.35">(H)</text>
<g style="mix-blend-mode:multiply">
<line x1="139.10" y1="31.90" x2="839.90" y2="31.90" stroke="#6a685a" stroke-width="1.5"/>
<line x1="139.10" y1="427.50" x2="839.90" y2="427.50" stroke="#3c3b2c" stroke-width="1.5"/>
<line x1="139.10" y1="31.90" x2="139.10" y2="402.60" stroke="#6a685a" stroke-width="1.5"/>
<line x1="839.90" y1="31.90" x2="839.90" y2="427.50" stroke="#3c3b2c" stroke-width="1.5"/>
<line x1="168.00" y1="31.90" x2="168.00" y2="427.50" stroke="#3c3b2c" stroke-width="1.5"/>
<line x1="202.00" y1="31.90" x2="202.00" y2="427.50" stroke="#3c3b2c" stroke-width="1.5"/>
<line x1="202.00" y1="51.10" x2="839.90" y2="51.10" stroke="#3c3b2c" stroke-width="1.5"/>
<line x1="139.10" y1="84.00" x2="839.90" y2="84.00" stroke="#3c3b2c" stroke-width="1.5"/>
<line x1="266.00" y1="51.10" x2="266.00" y2="427.50" stroke="#3c3b2c" stroke-width="1.5"/>
<line x1="329.60" y1="51.10" x2="329.60" y2="427.50" stroke="#3c3b2c" stroke-width="1.5"/>
<line x1="393.40" y1="51.10" x2="393.40" y2="427.50" stroke="#3c3b2c" stroke-width="1.5"/>
<line x1="457.40" y1="51.10" x2="457.40" y2="427.50" stroke="#3c3b2c" stroke-width="1.5"/>
<line x1="521.00" y1="51.10" x2="521.00" y2="427.50" stroke="#3c3b2c" stroke-width="1.5"/>
<line x1="584.50" y1="51.10" x2="584.50" y2="427.50" stroke="#3c3b2c" stroke-width="1.5"/>
<line x1="648.80" y1="51.10" x2="648.80" y2="427.50" stroke="#3c3b2c" stroke-width="1.5"/>
<line x1="712.10" y1="84.00" x2="712.10" y2="427.50" stroke="#3c3b2c" stroke-width="1.5"/>
<line x1="776.60" y1="176.90" x2="776.60" y2="427.50" stroke="#3c3b2c" stroke-width="1.5"/>
<line x1="202.00" y1="114.90" x2="712.10" y2="114.90" stroke="#3c3b2c" stroke-width="1.5"/>
<line x1="168.00" y1="114.90" x2="202.00" y2="114.90" stroke="#3c3b2c" stroke-width="1.5"/>
<line x1="139.10" y1="114.90" x2="168.00" y2="114.90" stroke="#3c3b2c" stroke-width="1.5"/>
<line x1="202.00" y1="146.00" x2="712.10" y2="146.00" stroke="#3c3b2c" stroke-width="1.5"/>
<line x1="168.00" y1="146.00" x2="202.00" y2="146.00" stroke="#3c3b2c" stroke-width="1.5"/>
<line x1="139.10" y1="146.00" x2="168.00" y2="146.00" stroke="#3c3b2c" stroke-width="1.5"/>
<line x1="202.00" y1="176.90" x2="839.90" y2="176.90" stroke="#3c3b2c" stroke-width="1.5"/>
<line x1="168.00" y1="176.90" x2="202.00" y2="176.90" stroke="#3c3b2c" stroke-width="1.5"/>
<line x1="139.10" y1="176.90" x2="168.00" y2="176.90" stroke="#3c3b2c" stroke-width="1.5"/>
<line x1="202.00" y1="208.00" x2="839.90" y2="208.00" stroke="#3c3b2c" stroke-width="1.5"/>
<line x1="168.00" y1="208.00" x2="202.00" y2="208.00" stroke="#3c3b2c" stroke-width="1.5"/>
<line x1="202.00" y1="239.40" x2="839.90" y2="239.40" stroke="#3c3b2c" stroke-width="1.5"/>
<line x1="168.00" y1="239.40" x2="202.00" y2="239.40" stroke="#3c3b2c" stroke-width="1.5"/>
<line x1="139.10" y1="239.40" x2="168.00" y2="239.40" stroke="#3c3b2c" stroke-width="1.5"/>
<line x1="202.00" y1="270.50" x2="839.90" y2="270.50" stroke="#3c3b2c" stroke-width="1.5"/>
<line x1="168.00" y1="270.50" x2="202.00" y2="270.50" stroke="#3c3b2c" stroke-width="1.5"/>
<line x1="202.00" y1="301.90" x2="839.90" y2="301.90" stroke="#3c3b2c" stroke-width="1.5"/>
<line x1="168.00" y1="301.90" x2="202.00" y2="301.90" stroke="#3c3b2c" stroke-width="1.5"/>
<line x1="139.10" y1="301.90" x2="168.00" y2="301.90" stroke="#3c3b2c" stroke-width="1.5"/>
<line x1="202.00" y1="332.60" x2="839.90" y2="332.60" stroke="#3c3b2c" stroke-width="1.5"/>
<line x1="168.00" y1="332.60" x2="202.00" y2="332.60" stroke="#3c3b2c" stroke-width="1.5"/>
<line x1="202.00" y1="366.80" x2="839.90" y2="366.80" stroke="#3c3b2c" stroke-width="1.5"/>
<line x1="168.00" y1="366.80" x2="202.00" y2="366.80" stroke="#3c3b2c" stroke-width="1.5"/>
<line x1="139.10" y1="366.80" x2="168.00" y2="366.80" stroke="#3c3b2c" stroke-width="1.5"/>
<line x1="202.00" y1="398.00" x2="839.90" y2="398.00" stroke="#3c3b2c" stroke-width="1.5"/>
<line x1="171.00" y1="398.00" x2="202.00" y2="398.00" stroke="#3c3b2c" stroke-width="1.5"/>
</g>
<text x="398.30" y="45.20" font-family='"Liberation Serif", serif' font-size="12.4" font-weight="bold" fill="#2a2418" stroke="#2a2418" stroke-width="0.3">Г</text>
<text x="413.20" y="45.20" font-family='"Liberation Serif", serif' font-size="12.4" font-weight="bold" fill="#2a2418" stroke="#2a2418" stroke-width="0.3">Р</text>
<text x="427.70" y="45.20" font-family='"Liberation Serif", serif' font-size="12.4" font-weight="bold" fill="#2a2418" stroke="#2a2418" stroke-width="0.3">У</text>
<text x="444.90" y="45.20" font-family='"Liberation Serif", serif' font-size="12.4" font-weight="bold" fill="#2a2418" stroke="#2a2418" stroke-width="0.3">П</text>
<text x="462.10" y="45.20" font-family='"Liberation Serif", serif' font-size="12.4" font-weight="bold" fill="#2a2418" stroke="#2a2418" stroke-width="0.3">П</text>
<text x="479.20" y="45.20" font-family='"Liberation Serif", serif' font-size="12.4" font-weight="bold" fill="#2a2418" stroke="#2a2418" stroke-width="0.3">Ы</text>
<text x="503.40" y="45.20" font-family='"Liberation Serif", serif' font-size="12.4" font-weight="bold" fill="#2a2418" stroke="#2a2418" stroke-width="0.3">Э</text>
<text x="518.40" y="45.20" font-family='"Liberation Serif", serif' font-size="12.4" font-weight="bold" fill="#2a2418" stroke="#2a2418" stroke-width="0.3">Л</text>
<text x="536.30" y="45.20" font-family='"Liberation Serif", serif' font-size="12.4" font-weight="bold" fill="#2a2418" stroke="#2a2418" stroke-width="0.3">Е</text>
<text x="551.00" y="45.20" font-family='"Liberation Serif", serif' font-size="12.4" font-weight="bold" fill="#2a2418" stroke="#2a2418" stroke-width="0.3">М</text>
<text x="569.30" y="45.20" font-family='"Liberation Serif", serif' font-size="12.4" font-weight="bold" fill="#2a2418" stroke="#2a2418" stroke-width="0.3">Е</text>
<text x="585.40" y="45.20" font-family='"Liberation Serif", serif' font-size="12.4" font-weight="bold" fill="#2a2418" stroke="#2a2418" stroke-width="0.3">Н</text>
<text x="600.80" y="45.20" font-family='"Liberation Serif", serif' font-size="12.4" font-weight="bold" fill="#2a2418" stroke="#2a2418" stroke-width="0.3">Т</text>
<text x="616.90" y="45.20" font-family='"Liberation Serif", serif' font-size="12.4" font-weight="bold" fill="#2a2418" stroke="#2a2418" stroke-width="0.3">О</text>
<text x="633.30" y="45.20" font-family='"Liberation Serif", serif' font-size="12.4" font-weight="bold" fill="#2a2418" stroke="#2a2418" stroke-width="0.3">В</text>
<text x="234.00" y="71.60" font-family='"Liberation Serif", serif' font-size="14" font-weight="bold" fill="#2a2418" text-anchor="middle" stroke="#2a2418" stroke-width="0.3">I</text>
<text x="297.80" y="71.60" font-family='"Liberation Serif", serif' font-size="14" font-weight="bold" fill="#2a2418" text-anchor="middle" stroke="#2a2418" stroke-width="0.3">II</text>
<text x="361.50" y="71.60" font-family='"Liberation Serif", serif' font-size="14" font-weight="bold" fill="#2a2418" text-anchor="middle" stroke="#2a2418" stroke-width="0.3">III</text>
<text x="425.40" y="71.60" font-family='"Liberation Serif", serif' font-size="14" font-weight="bold" fill="#2a2418" text-anchor="middle" stroke="#2a2418" stroke-width="0.3">IV</text>
<text x="489.20" y="71.60" font-family='"Liberation Serif", serif' font-size="14" font-weight="bold" fill="#2a2418" text-anchor="middle" stroke="#2a2418" stroke-width="0.3">V</text>
<text x="552.75" y="71.60" font-family='"Liberation Serif", serif' font-size="14" font-weight="bold" fill="#2a2418" text-anchor="middle" stroke="#2a2418" stroke-width="0.3">VI</text>
<text x="616.65" y="71.60" font-family='"Liberation Serif", serif' font-size="14" font-weight="bold" fill="#2a2418" text-anchor="middle" stroke="#2a2418" stroke-width="0.3">VII</text>
<text x="744.35" y="71.60" font-family='"Liberation Serif", serif' font-size="14" font-weight="bold" fill="#2a2418" text-anchor="middle" stroke="#2a2418" stroke-width="0.3">VIII</text>
<text transform="translate(155.9,79.7) rotate(-90)" font-family='"Liberation Serif", serif' font-size="13.5" font-weight="bold" fill="#2a2418" stroke="#2a2418" stroke-width="0.3" textLength="44.4" lengthAdjust="spacingAndGlyphs">Период</text>
<text transform="translate(185,68.8) rotate(-90)" font-family='"Liberation Serif", serif' font-size="13.5" font-weight="bold" fill="#2a2418" stroke="#2a2418" stroke-width="0.3" textLength="22" lengthAdjust="spacingAndGlyphs">Ряд</text>
<text transform="translate(152.90,102.30) scale(1.08,1.0)" font-family='"Liberation Sans", sans-serif' font-size="13.2" font-weight="bold" fill="#121210" text-anchor="middle" stroke="#121210" stroke-width="0.35">1</text>
<text transform="translate(152.90,134.20) scale(1.08,1.0)" font-family='"Liberation Sans", sans-serif' font-size="13.2" font-weight="bold" fill="#121210" text-anchor="middle" stroke="#121210" stroke-width="0.35">2</text>
<text transform="translate(152.90,164.30) scale(1.08,1.0)" font-family='"Liberation Sans", sans-serif' font-size="13.2" font-weight="bold" fill="#121210" text-anchor="middle" stroke="#121210" stroke-width="0.35">3</text>
<text transform="translate(152.90,213.10) scale(1.08,1.0)" font-family='"Liberation Sans", sans-serif' font-size="13.2" font-weight="bold" fill="#121210" text-anchor="middle" stroke="#121210" stroke-width="0.35">4</text>
<text transform="translate(152.90,275.10) scale(1.08,1.0)" font-family='"Liberation Sans", sans-serif' font-size="13.2" font-weight="bold" fill="#121210" text-anchor="middle" stroke="#121210" stroke-width="0.35">5</text>
<text transform="translate(152.90,341.20) scale(1.08,1.0)" font-family='"Liberation Sans", sans-serif' font-size="13.2" font-weight="bold" fill="#121210" text-anchor="middle" stroke="#121210" stroke-width="0.35">6</text>
<text transform="translate(152.90,403.10) scale(1.08,1.0)" font-family='"Liberation Sans", sans-serif' font-size="13.2" font-weight="bold" fill="#121210" text-anchor="middle" stroke="#121210" stroke-width="0.35">7</text>
<text transform="translate(185.10,101.80) scale(1.08,1.0)" font-family='"Liberation Serif", serif' font-size="12.3" font-weight="normal" fill="#2a2418" text-anchor="middle" stroke="#2a2418" stroke-width="0.6">1</text>
<text transform="translate(185.10,132.50) scale(1.08,1.0)" font-family='"Liberation Serif", serif' font-size="12.3" font-weight="normal" fill="#2a2418" text-anchor="middle" stroke="#2a2418" stroke-width="0.6">2</text>
<text transform="translate(185.10,164.00) scale(1.08,1.0)" font-family='"Liberation Serif", serif' font-size="12.3" font-weight="normal" fill="#2a2418" text-anchor="middle" stroke="#2a2418" stroke-width="0.6">3</text>
<text transform="translate(185.10,195.10) scale(1.08,1.0)" font-family='"Liberation Serif", serif' font-size="12.3" font-weight="normal" fill="#2a2418" text-anchor="middle" stroke="#2a2418" stroke-width="0.6">4</text>
<text transform="translate(185.10,226.20) scale(1.08,1.0)" font-family='"Liberation Serif", serif' font-size="12.3" font-weight="normal" fill="#2a2418" text-anchor="middle" stroke="#2a2418" stroke-width="0.6">5</text>
<text transform="translate(185.10,258.10) scale(1.08,1.0)" font-family='"Liberation Serif", serif' font-size="12.3" font-weight="normal" fill="#2a2418" text-anchor="middle" stroke="#2a2418" stroke-width="0.6">6</text>
<text transform="translate(185.10,289.00) scale(1.08,1.0)" font-family='"Liberation Serif", serif' font-size="12.3" font-weight="normal" fill="#2a2418" text-anchor="middle" stroke="#2a2418" stroke-width="0.6">7</text>
<text transform="translate(185.10,320.80) scale(1.08,1.0)" font-family='"Liberation Serif", serif' font-size="12.3" font-weight="normal" fill="#2a2418" text-anchor="middle" stroke="#2a2418" stroke-width="0.6">8</text>
<text transform="translate(185.10,352.50) scale(1.08,1.0)" font-family='"Liberation Serif", serif' font-size="12.3" font-weight="normal" fill="#2a2418" text-anchor="middle" stroke="#2a2418" stroke-width="0.6">9</text>
<text transform="translate(185.50,385.60) scale(1.1,1.0)" font-family='"Liberation Serif", serif' font-size="12" font-weight="bold" fill="#2a2418" text-anchor="middle">10</text>
<text transform="translate(185.50,416.60) scale(1.05,1.0)" font-family='"Liberation Sans", sans-serif' font-size="12" font-weight="normal" fill="#3a3428" text-anchor="middle">11</text>
<rect x="742" y="115" width="64.3" height="30.6" fill="none" stroke="#3a3526" stroke-width="1.5"/>
<text x="749.00" y="129.10" font-family='"Liberation Serif", serif' font-size="14" font-weight="bold" fill="#1a160a" stroke="#1a160a" stroke-width="0.35">Li</text>
<text x="801.60" y="125.20" font-family='"Liberation Serif", serif' font-size="8" font-weight="bold" fill="#1a160a" text-anchor="end" stroke="#1a160a" stroke-width="0.25">3</text>
<text transform="translate(801.60,133.00) scale(1.2,1.0)" font-family='"Liberation Serif", serif' font-size="7" font-weight="bold" fill="#1a160a" text-anchor="end" stroke="#1a160a" stroke-width="0.25">6,939</text>
<text transform="translate(749.00,140.10) scale(1.15,1.0)" font-family='"Liberation Serif", serif' font-size="7.3" font-weight="bold" fill="#1a160a" stroke="#1a160a" stroke-width="0.25">Литий</text>
<line x1="753.70" y1="106.50" x2="753.70" y2="115.00" stroke="#3a3526" stroke-width="1.1"/>
<line x1="799.20" y1="106.50" x2="799.20" y2="119.00" stroke="#3a3526" stroke-width="1.1"/>
<line x1="792.50" y1="134.50" x2="792.50" y2="153.50" stroke="#3a3526" stroke-width="1.1"/>
<text x="726.60" y="98.20" font-family='"Liberation Sans", sans-serif' font-size="7" font-weight="bold" fill="#2a2a2a" textLength="48.3" lengthAdjust="spacingAndGlyphs" stroke="#2a2a2a" stroke-width="0.3">Обозначение</text>
<text x="726.60" y="105.60" font-family='"Liberation Sans", sans-serif' font-size="7" font-weight="bold" fill="#2a2a2a" textLength="34.5" lengthAdjust="spacingAndGlyphs" stroke="#2a2a2a" stroke-width="0.3">элемента</text>
<text x="796.50" y="98.20" font-family='"Liberation Sans", sans-serif' font-size="7" font-weight="bold" fill="#2a2a2a" textLength="34.9" lengthAdjust="spacingAndGlyphs" stroke="#2a2a2a" stroke-width="0.3">Атомный</text>
<text x="796.50" y="105.60" font-family='"Liberation Sans", sans-serif' font-size="7" font-weight="bold" fill="#2a2a2a" textLength="22.3" lengthAdjust="spacingAndGlyphs" stroke="#2a2a2a" stroke-width="0.3">номер</text>
<text x="778.80" y="161.00" font-family='"Liberation Sans", sans-serif' font-size="7" font-weight="bold" fill="#2a2a2a" textLength="57.0" lengthAdjust="spacingAndGlyphs" stroke="#2a2a2a" stroke-width="0.3">Относительная</text>
<text x="778.80" y="168.40" font-family='"Liberation Sans", sans-serif' font-size="7" font-weight="bold" fill="#2a2a2a" textLength="54.2" lengthAdjust="spacingAndGlyphs" stroke="#2a2a2a" stroke-width="0.3">атомная масса</text>
<rect x="139.70" y="452.20" width="17.80" height="63.30" fill="#ffffff"/>
<rect x="157.50" y="452.20" width="48.69" height="31.50" fill="#8cc350"/>
<text transform="translate(160.30,462.90) scale(1.05,1.0)" font-family='"Liberation Serif", serif' font-size="7.5" font-weight="bold" fill="#123a06" stroke="#123a06" stroke-width="0.2">58</text>
<text transform="translate(160.70,471.50) scale(1.2,1.0)" font-family='"Liberation Serif", serif' font-size="6.8" font-weight="bold" fill="#123a06" letter-spacing="0.3" stroke="#123a06" stroke-width="0.1">140,12</text>
<text x="203.89" y="466.80" font-family='"Liberation Serif", serif' font-size="14.5" font-weight="bold" fill="#0b2a02" text-anchor="end" stroke="#0b2a02" stroke-width="0.35">Ce</text>
<text transform="translate(203.69,477.10) scale(1.18,1.0)" font-family='"Liberation Serif", serif' font-size="6.8" font-weight="bold" fill="#123a06" text-anchor="end" stroke="#123a06" stroke-width="0.12">Церий</text>
<rect x="206.19" y="452.20" width="48.69" height="31.50" fill="#8cc350"/>
<text transform="translate(208.99,462.90) scale(1.05,1.0)" font-family='"Liberation Serif", serif' font-size="7.5" font-weight="bold" fill="#123a06" stroke="#123a06" stroke-width="0.2">59</text>
<text transform="translate(209.39,471.50) scale(1.2,1.0)" font-family='"Liberation Serif", serif' font-size="6.8" font-weight="bold" fill="#123a06" letter-spacing="0.3" stroke="#123a06" stroke-width="0.1">140,907</text>
<text x="252.59" y="466.80" font-family='"Liberation Serif", serif' font-size="14.5" font-weight="bold" fill="#0b2a02" text-anchor="end" stroke="#0b2a02" stroke-width="0.35">Pr</text>
<text transform="translate(252.39,477.10) scale(1.18,1.0)" font-family='"Liberation Serif", serif' font-size="6.8" font-weight="bold" fill="#123a06" text-anchor="end" stroke="#123a06" stroke-width="0.12">Празеодим</text>
<rect x="254.89" y="452.20" width="48.69" height="31.50" fill="#8cc350"/>
<text transform="translate(257.69,462.90) scale(1.05,1.0)" font-family='"Liberation Serif", serif' font-size="7.5" font-weight="bold" fill="#123a06" stroke="#123a06" stroke-width="0.2">60</text>
<text transform="translate(258.09,471.50) scale(1.2,1.0)" font-family='"Liberation Serif", serif' font-size="6.8" font-weight="bold" fill="#123a06" letter-spacing="0.3" stroke="#123a06" stroke-width="0.1">144,24</text>
<text x="301.28" y="466.80" font-family='"Liberation Serif", serif' font-size="14.5" font-weight="bold" fill="#0b2a02" text-anchor="end" stroke="#0b2a02" stroke-width="0.35">Nd</text>
<text transform="translate(301.08,477.10) scale(1.18,1.0)" font-family='"Liberation Serif", serif' font-size="6.8" font-weight="bold" fill="#123a06" text-anchor="end" stroke="#123a06" stroke-width="0.12">Неодим</text>
<rect x="303.58" y="452.20" width="48.69" height="31.50" fill="#8cc350"/>
<text transform="translate(306.38,462.90) scale(1.05,1.0)" font-family='"Liberation Serif", serif' font-size="7.5" font-weight="bold" fill="#123a06" stroke="#123a06" stroke-width="0.2">61</text>
<text transform="translate(306.78,471.50) scale(1.2,1.0)" font-family='"Liberation Serif", serif' font-size="6.8" font-weight="bold" fill="#123a06" letter-spacing="0.3" stroke="#123a06" stroke-width="0.1">[147]*</text>
<text x="349.97" y="466.80" font-family='"Liberation Serif", serif' font-size="14.5" font-weight="bold" fill="#0b2a02" text-anchor="end" stroke="#0b2a02" stroke-width="0.35">Pm</text>
<text transform="translate(349.77,477.10) scale(1.18,1.0)" font-family='"Liberation Serif", serif' font-size="6.8" font-weight="bold" fill="#123a06" text-anchor="end" stroke="#123a06" stroke-width="0.12">Прометий</text>
<rect x="352.27" y="452.20" width="48.69" height="31.50" fill="#8cc350"/>
<text transform="translate(355.07,462.90) scale(1.05,1.0)" font-family='"Liberation Serif", serif' font-size="7.5" font-weight="bold" fill="#123a06" stroke="#123a06" stroke-width="0.2">62</text>
<text transform="translate(355.47,471.50) scale(1.2,1.0)" font-family='"Liberation Serif", serif' font-size="6.8" font-weight="bold" fill="#123a06" letter-spacing="0.3" stroke="#123a06" stroke-width="0.1">150,35</text>
<text x="398.66" y="466.80" font-family='"Liberation Serif", serif' font-size="14.5" font-weight="bold" fill="#0b2a02" text-anchor="end" stroke="#0b2a02" stroke-width="0.35">Sm</text>
<text transform="translate(398.46,477.10) scale(1.18,1.0)" font-family='"Liberation Serif", serif' font-size="6.8" font-weight="bold" fill="#123a06" text-anchor="end" stroke="#123a06" stroke-width="0.12">Самарий</text>
<rect x="400.96" y="452.20" width="48.69" height="31.50" fill="#8cc350"/>
<text transform="translate(403.76,462.90) scale(1.05,1.0)" font-family='"Liberation Serif", serif' font-size="7.5" font-weight="bold" fill="#123a06" stroke="#123a06" stroke-width="0.2">63</text>
<text transform="translate(404.16,471.50) scale(1.2,1.0)" font-family='"Liberation Serif", serif' font-size="6.8" font-weight="bold" fill="#123a06" letter-spacing="0.3" stroke="#123a06" stroke-width="0.1">151,96</text>
<text x="447.36" y="466.80" font-family='"Liberation Serif", serif' font-size="14.5" font-weight="bold" fill="#0b2a02" text-anchor="end" stroke="#0b2a02" stroke-width="0.35">Eu</text>
<text transform="translate(447.16,477.10) scale(1.18,1.0)" font-family='"Liberation Serif", serif' font-size="6.8" font-weight="bold" fill="#123a06" text-anchor="end" stroke="#123a06" stroke-width="0.12">Европий</text>
<rect x="449.66" y="452.20" width="48.69" height="31.50" fill="#8cc350"/>
<text transform="translate(452.46,462.90) scale(1.05,1.0)" font-family='"Liberation Serif", serif' font-size="7.5" font-weight="bold" fill="#123a06" stroke="#123a06" stroke-width="0.2">64</text>
<text transform="translate(452.86,471.50) scale(1.2,1.0)" font-family='"Liberation Serif", serif' font-size="6.8" font-weight="bold" fill="#123a06" letter-spacing="0.3" stroke="#123a06" stroke-width="0.1">157,25</text>
<text x="496.05" y="466.80" font-family='"Liberation Serif", serif' font-size="14.5" font-weight="bold" fill="#0b2a02" text-anchor="end" stroke="#0b2a02" stroke-width="0.35">Gd</text>
<text transform="translate(495.85,477.10) scale(1.18,1.0)" font-family='"Liberation Serif", serif' font-size="6.8" font-weight="bold" fill="#123a06" text-anchor="end" stroke="#123a06" stroke-width="0.12">Гадолиний</text>
<rect x="498.35" y="452.20" width="48.69" height="31.50" fill="#8cc350"/>
<text transform="translate(501.15,462.90) scale(1.05,1.0)" font-family='"Liberation Serif", serif' font-size="7.5" font-weight="bold" fill="#123a06" stroke="#123a06" stroke-width="0.2">65</text>
<text transform="translate(501.55,471.50) scale(1.2,1.0)" font-family='"Liberation Serif", serif' font-size="6.8" font-weight="bold" fill="#123a06" letter-spacing="0.3" stroke="#123a06" stroke-width="0.1">158,924</text>
<text x="544.74" y="466.80" font-family='"Liberation Serif", serif' font-size="14.5" font-weight="bold" fill="#0b2a02" text-anchor="end" stroke="#0b2a02" stroke-width="0.35">Tb</text>
<text transform="translate(544.54,477.10) scale(1.18,1.0)" font-family='"Liberation Serif", serif' font-size="6.8" font-weight="bold" fill="#123a06" text-anchor="end" stroke="#123a06" stroke-width="0.12">Тербий</text>
<rect x="547.04" y="452.20" width="48.69" height="31.50" fill="#8cc350"/>
<text transform="translate(549.84,462.90) scale(1.05,1.0)" font-family='"Liberation Serif", serif' font-size="7.5" font-weight="bold" fill="#123a06" stroke="#123a06" stroke-width="0.2">66</text>
<text transform="translate(550.24,471.50) scale(1.2,1.0)" font-family='"Liberation Serif", serif' font-size="6.8" font-weight="bold" fill="#123a06" letter-spacing="0.3" stroke="#123a06" stroke-width="0.1">162,50</text>
<text x="593.44" y="466.80" font-family='"Liberation Serif", serif' font-size="14.5" font-weight="bold" fill="#0b2a02" text-anchor="end" stroke="#0b2a02" stroke-width="0.35">Dy</text>
<text transform="translate(593.24,477.10) scale(1.18,1.0)" font-family='"Liberation Serif", serif' font-size="6.8" font-weight="bold" fill="#123a06" text-anchor="end" stroke="#123a06" stroke-width="0.12">Диспрозий</text>
<rect x="595.74" y="452.20" width="48.69" height="31.50" fill="#8cc350"/>
<text transform="translate(598.54,462.90) scale(1.05,1.0)" font-family='"Liberation Serif", serif' font-size="7.5" font-weight="bold" fill="#123a06" stroke="#123a06" stroke-width="0.2">67</text>
<text transform="translate(598.94,471.50) scale(1.2,1.0)" font-family='"Liberation Serif", serif' font-size="6.8" font-weight="bold" fill="#123a06" letter-spacing="0.3" stroke="#123a06" stroke-width="0.1">164,930</text>
<text x="642.13" y="466.80" font-family='"Liberation Serif", serif' font-size="14.5" font-weight="bold" fill="#0b2a02" text-anchor="end" stroke="#0b2a02" stroke-width="0.35">Ho</text>
<text transform="translate(641.93,477.10) scale(1.18,1.0)" font-family='"Liberation Serif", serif' font-size="6.8" font-weight="bold" fill="#123a06" text-anchor="end" stroke="#123a06" stroke-width="0.12">Гольмий</text>
<rect x="644.43" y="452.20" width="48.69" height="31.50" fill="#8cc350"/>
<text transform="translate(647.23,462.90) scale(1.05,1.0)" font-family='"Liberation Serif", serif' font-size="7.5" font-weight="bold" fill="#123a06" stroke="#123a06" stroke-width="0.2">68</text>
<text transform="translate(647.63,471.50) scale(1.2,1.0)" font-family='"Liberation Serif", serif' font-size="6.8" font-weight="bold" fill="#123a06" letter-spacing="0.3" stroke="#123a06" stroke-width="0.1">167,26</text>
<text x="690.82" y="466.80" font-family='"Liberation Serif", serif' font-size="14.5" font-weight="bold" fill="#0b2a02" text-anchor="end" stroke="#0b2a02" stroke-width="0.35">Er</text>
<text transform="translate(690.62,477.10) scale(1.18,1.0)" font-family='"Liberation Serif", serif' font-size="6.8" font-weight="bold" fill="#123a06" text-anchor="end" stroke="#123a06" stroke-width="0.12">Эрбий</text>
<rect x="693.12" y="452.20" width="48.69" height="31.50" fill="#8cc350"/>
<text transform="translate(695.92,462.90) scale(1.05,1.0)" font-family='"Liberation Serif", serif' font-size="7.5" font-weight="bold" fill="#123a06" stroke="#123a06" stroke-width="0.2">69</text>
<text transform="translate(696.32,471.50) scale(1.2,1.0)" font-family='"Liberation Serif", serif' font-size="6.8" font-weight="bold" fill="#123a06" letter-spacing="0.3" stroke="#123a06" stroke-width="0.1">168,934</text>
<text x="739.51" y="466.80" font-family='"Liberation Serif", serif' font-size="14.5" font-weight="bold" fill="#0b2a02" text-anchor="end" stroke="#0b2a02" stroke-width="0.35">Tm</text>
<text transform="translate(739.31,477.10) scale(1.18,1.0)" font-family='"Liberation Serif", serif' font-size="6.8" font-weight="bold" fill="#123a06" text-anchor="end" stroke="#123a06" stroke-width="0.12">Тулий</text>
<rect x="741.81" y="452.20" width="48.69" height="31.50" fill="#8cc350"/>
<text transform="translate(744.61,462.90) scale(1.05,1.0)" font-family='"Liberation Serif", serif' font-size="7.5" font-weight="bold" fill="#123a06" stroke="#123a06" stroke-width="0.2">70</text>
<text transform="translate(745.01,471.50) scale(1.2,1.0)" font-family='"Liberation Serif", serif' font-size="6.8" font-weight="bold" fill="#123a06" letter-spacing="0.3" stroke="#123a06" stroke-width="0.1">173,04</text>
<text x="788.21" y="466.80" font-family='"Liberation Serif", serif' font-size="14.5" font-weight="bold" fill="#0b2a02" text-anchor="end" stroke="#0b2a02" stroke-width="0.35">Yb</text>
<text transform="translate(788.01,477.10) scale(1.18,1.0)" font-family='"Liberation Serif", serif' font-size="6.8" font-weight="bold" fill="#123a06" text-anchor="end" stroke="#123a06" stroke-width="0.12">Иттербий</text>
<rect x="790.51" y="452.20" width="48.69" height="31.50" fill="#64b9dc"/>
<text transform="translate(793.31,462.90) scale(1.05,1.0)" font-family='"Liberation Serif", serif' font-size="7.5" font-weight="bold" fill="#0a2540" stroke="#0a2540" stroke-width="0.2">71</text>
<text transform="translate(793.71,471.50) scale(1.2,1.0)" font-family='"Liberation Serif", serif' font-size="6.8" font-weight="bold" fill="#0a2540" letter-spacing="0.3" stroke="#0a2540" stroke-width="0.1">174,97</text>
<text x="836.90" y="466.80" font-family='"Liberation Serif", serif' font-size="14.5" font-weight="bold" fill="#07213a" text-anchor="end" stroke="#07213a" stroke-width="0.35">Lu</text>
<text transform="translate(836.70,477.10) scale(1.18,1.0)" font-family='"Liberation Serif", serif' font-size="6.8" font-weight="bold" fill="#0e3050" text-anchor="end" stroke="#0e3050" stroke-width="0.12">Лютеций</text>
<rect x="157.50" y="483.70" width="48.69" height="31.80" fill="#8cc350"/>
<text transform="translate(160.30,494.40) scale(1.05,1.0)" font-family='"Liberation Serif", serif' font-size="7.5" font-weight="bold" fill="#123a06" stroke="#123a06" stroke-width="0.2">90</text>
<text transform="translate(160.70,503.00) scale(1.2,1.0)" font-family='"Liberation Serif", serif' font-size="6.8" font-weight="bold" fill="#123a06" letter-spacing="0.3" stroke="#123a06" stroke-width="0.1">232,038</text>
<text x="203.89" y="498.30" font-family='"Liberation Serif", serif' font-size="14.5" font-weight="bold" fill="#0b2a02" text-anchor="end" stroke="#0b2a02" stroke-width="0.35">Th</text>
<text transform="translate(203.69,509.70) scale(1.18,1.0)" font-family='"Liberation Serif", serif' font-size="6.8" font-weight="bold" fill="#123a06" text-anchor="end" stroke="#123a06" stroke-width="0.12">Торий</text>
<rect x="206.19" y="483.70" width="48.69" height="31.80" fill="#8cc350"/>
<text transform="translate(208.99,494.40) scale(1.05,1.0)" font-family='"Liberation Serif", serif' font-size="7.5" font-weight="bold" fill="#123a06" stroke="#123a06" stroke-width="0.2">91</text>
<text transform="translate(209.39,503.00) scale(1.2,1.0)" font-family='"Liberation Serif", serif' font-size="6.8" font-weight="bold" fill="#123a06" letter-spacing="0.3" stroke="#123a06" stroke-width="0.1">[231]</text>
<text x="252.59" y="498.30" font-family='"Liberation Serif", serif' font-size="14.5" font-weight="bold" fill="#0b2a02" text-anchor="end" stroke="#0b2a02" stroke-width="0.35">Pa</text>
<text transform="translate(252.39,509.70) scale(1.18,1.0)" font-family='"Liberation Serif", serif' font-size="6.8" font-weight="bold" fill="#123a06" text-anchor="end" stroke="#123a06" stroke-width="0.12">Протактиний</text>
<rect x="254.89" y="483.70" width="48.69" height="31.80" fill="#8cc350"/>
<text transform="translate(257.69,494.40) scale(1.05,1.0)" font-family='"Liberation Serif", serif' font-size="7.5" font-weight="bold" fill="#123a06" stroke="#123a06" stroke-width="0.2">92</text>
<text transform="translate(258.09,503.00) scale(1.2,1.0)" font-family='"Liberation Serif", serif' font-size="6.8" font-weight="bold" fill="#123a06" letter-spacing="0.3" stroke="#123a06" stroke-width="0.1">238,03</text>
<text x="301.28" y="498.30" font-family='"Liberation Serif", serif' font-size="14.5" font-weight="bold" fill="#0b2a02" text-anchor="end" stroke="#0b2a02" stroke-width="0.35">U</text>
<text transform="translate(301.08,509.70) scale(1.18,1.0)" font-family='"Liberation Serif", serif' font-size="6.8" font-weight="bold" fill="#123a06" text-anchor="end" stroke="#123a06" stroke-width="0.12">Уран</text>
<rect x="303.58" y="483.70" width="48.69" height="31.80" fill="#8cc350"/>
<text transform="translate(306.38,494.40) scale(1.05,1.0)" font-family='"Liberation Serif", serif' font-size="7.5" font-weight="bold" fill="#123a06" stroke="#123a06" stroke-width="0.2">93</text>
<text transform="translate(306.78,503.00) scale(1.2,1.0)" font-family='"Liberation Serif", serif' font-size="6.8" font-weight="bold" fill="#123a06" letter-spacing="0.3" stroke="#123a06" stroke-width="0.1">[237]</text>
<text x="349.97" y="498.30" font-family='"Liberation Serif", serif' font-size="14.5" font-weight="bold" fill="#0b2a02" text-anchor="end" stroke="#0b2a02" stroke-width="0.35">Np</text>
<text transform="translate(349.77,509.70) scale(1.18,1.0)" font-family='"Liberation Serif", serif' font-size="6.8" font-weight="bold" fill="#123a06" text-anchor="end" stroke="#123a06" stroke-width="0.12">Нептуний</text>
<rect x="352.27" y="483.70" width="48.69" height="31.80" fill="#8cc350"/>
<text transform="translate(355.07,494.40) scale(1.05,1.0)" font-family='"Liberation Serif", serif' font-size="7.5" font-weight="bold" fill="#123a06" stroke="#123a06" stroke-width="0.2">94</text>
<text transform="translate(355.47,503.00) scale(1.2,1.0)" font-family='"Liberation Serif", serif' font-size="6.8" font-weight="bold" fill="#123a06" letter-spacing="0.3" stroke="#123a06" stroke-width="0.1">[244]</text>
<text x="398.66" y="498.30" font-family='"Liberation Serif", serif' font-size="14.5" font-weight="bold" fill="#0b2a02" text-anchor="end" stroke="#0b2a02" stroke-width="0.35">Pu</text>
<text transform="translate(398.46,509.70) scale(1.18,1.0)" font-family='"Liberation Serif", serif' font-size="6.8" font-weight="bold" fill="#123a06" text-anchor="end" stroke="#123a06" stroke-width="0.12">Плутоний</text>
<rect x="400.96" y="483.70" width="48.69" height="31.80" fill="#8cc350"/>
<text transform="translate(403.76,494.40) scale(1.05,1.0)" font-family='"Liberation Serif", serif' font-size="7.5" font-weight="bold" fill="#123a06" stroke="#123a06" stroke-width="0.2">95</text>
<text transform="translate(404.16,503.00) scale(1.2,1.0)" font-family='"Liberation Serif", serif' font-size="6.8" font-weight="bold" fill="#123a06" letter-spacing="0.3" stroke="#123a06" stroke-width="0.1">[243]</text>
<text x="447.36" y="498.30" font-family='"Liberation Serif", serif' font-size="14.5" font-weight="bold" fill="#0b2a02" text-anchor="end" stroke="#0b2a02" stroke-width="0.35">Am</text>
<text transform="translate(447.16,509.70) scale(1.18,1.0)" font-family='"Liberation Serif", serif' font-size="6.8" font-weight="bold" fill="#123a06" text-anchor="end" stroke="#123a06" stroke-width="0.12">Америций</text>
<rect x="449.66" y="483.70" width="48.69" height="31.80" fill="#8cc350"/>
<text transform="translate(452.46,494.40) scale(1.05,1.0)" font-family='"Liberation Serif", serif' font-size="7.5" font-weight="bold" fill="#123a06" stroke="#123a06" stroke-width="0.2">96</text>
<text transform="translate(452.86,503.00) scale(1.2,1.0)" font-family='"Liberation Serif", serif' font-size="6.8" font-weight="bold" fill="#123a06" letter-spacing="0.3" stroke="#123a06" stroke-width="0.1">[247]</text>
<text x="496.05" y="498.30" font-family='"Liberation Serif", serif' font-size="14.5" font-weight="bold" fill="#0b2a02" text-anchor="end" stroke="#0b2a02" stroke-width="0.35">Cm</text>
<text transform="translate(495.85,509.70) scale(1.18,1.0)" font-family='"Liberation Serif", serif' font-size="6.8" font-weight="bold" fill="#123a06" text-anchor="end" stroke="#123a06" stroke-width="0.12">Кюрий</text>
<rect x="498.35" y="483.70" width="48.69" height="31.80" fill="#8cc350"/>
<text transform="translate(501.15,494.40) scale(1.05,1.0)" font-family='"Liberation Serif", serif' font-size="7.5" font-weight="bold" fill="#123a06" stroke="#123a06" stroke-width="0.2">97</text>
<text transform="translate(501.55,503.00) scale(1.2,1.0)" font-family='"Liberation Serif", serif' font-size="6.8" font-weight="bold" fill="#123a06" letter-spacing="0.3" stroke="#123a06" stroke-width="0.1">[247]</text>
<text x="544.74" y="498.30" font-family='"Liberation Serif", serif' font-size="14.5" font-weight="bold" fill="#0b2a02" text-anchor="end" stroke="#0b2a02" stroke-width="0.35">Bk</text>
<text transform="translate(544.54,509.70) scale(1.18,1.0)" font-family='"Liberation Serif", serif' font-size="6.8" font-weight="bold" fill="#123a06" text-anchor="end" stroke="#123a06" stroke-width="0.12">Берклий</text>
<rect x="547.04" y="483.70" width="48.69" height="31.80" fill="#8cc350"/>
<text transform="translate(549.84,494.40) scale(1.05,1.0)" font-family='"Liberation Serif", serif' font-size="7.5" font-weight="bold" fill="#123a06" stroke="#123a06" stroke-width="0.2">98</text>
<text transform="translate(550.24,503.00) scale(1.2,1.0)" font-family='"Liberation Serif", serif' font-size="6.8" font-weight="bold" fill="#123a06" letter-spacing="0.3" stroke="#123a06" stroke-width="0.1">[252]*</text>
<text x="593.44" y="498.30" font-family='"Liberation Serif", serif' font-size="14.5" font-weight="bold" fill="#0b2a02" text-anchor="end" stroke="#0b2a02" stroke-width="0.35">Cf</text>
<text transform="translate(593.24,509.70) scale(1.18,1.0)" font-family='"Liberation Serif", serif' font-size="6.8" font-weight="bold" fill="#123a06" text-anchor="end" stroke="#123a06" stroke-width="0.12">Калифорний</text>
<rect x="595.74" y="483.70" width="48.69" height="31.80" fill="#8cc350"/>
<text transform="translate(598.54,494.40) scale(1.05,1.0)" font-family='"Liberation Serif", serif' font-size="7.5" font-weight="bold" fill="#123a06" stroke="#123a06" stroke-width="0.2">99</text>
<text transform="translate(598.94,503.00) scale(1.2,1.0)" font-family='"Liberation Serif", serif' font-size="6.8" font-weight="bold" fill="#123a06" letter-spacing="0.3" stroke="#123a06" stroke-width="0.1">[254]</text>
<text x="642.13" y="498.30" font-family='"Liberation Serif", serif' font-size="14.5" font-weight="bold" fill="#0b2a02" text-anchor="end" stroke="#0b2a02" stroke-width="0.35">Es</text>
<text transform="translate(641.93,509.70) scale(1.18,1.0)" font-family='"Liberation Serif", serif' font-size="6.8" font-weight="bold" fill="#123a06" text-anchor="end" stroke="#123a06" stroke-width="0.12">Эйнштейний</text>
<rect x="644.43" y="483.70" width="48.69" height="31.80" fill="#8cc350"/>
<text transform="translate(647.23,494.40) scale(1.05,1.0)" font-family='"Liberation Serif", serif' font-size="7.5" font-weight="bold" fill="#123a06" stroke="#123a06" stroke-width="0.2">100</text>
<text transform="translate(647.63,503.00) scale(1.2,1.0)" font-family='"Liberation Serif", serif' font-size="6.8" font-weight="bold" fill="#123a06" letter-spacing="0.3" stroke="#123a06" stroke-width="0.1">[257]</text>
<text x="690.82" y="498.30" font-family='"Liberation Serif", serif' font-size="14.5" font-weight="bold" fill="#0b2a02" text-anchor="end" stroke="#0b2a02" stroke-width="0.35">Fm</text>
<text transform="translate(690.62,509.70) scale(1.18,1.0)" font-family='"Liberation Serif", serif' font-size="6.8" font-weight="bold" fill="#123a06" text-anchor="end" stroke="#123a06" stroke-width="0.12">Фермий</text>
<rect x="693.12" y="483.70" width="48.69" height="31.80" fill="#8cc350"/>
<text transform="translate(695.92,494.40) scale(1.05,1.0)" font-family='"Liberation Serif", serif' font-size="7.5" font-weight="bold" fill="#123a06" stroke="#123a06" stroke-width="0.2">101</text>
<text transform="translate(696.32,503.00) scale(1.2,1.0)" font-family='"Liberation Serif", serif' font-size="6.8" font-weight="bold" fill="#123a06" letter-spacing="0.3" stroke="#123a06" stroke-width="0.1">[257]</text>
<text x="739.51" y="498.30" font-family='"Liberation Serif", serif' font-size="14.5" font-weight="bold" fill="#0b2a02" text-anchor="end" stroke="#0b2a02" stroke-width="0.35">Md</text>
<text transform="translate(739.31,509.70) scale(1.18,1.0)" font-family='"Liberation Serif", serif' font-size="6.8" font-weight="bold" fill="#123a06" text-anchor="end" stroke="#123a06" stroke-width="0.12">Менделевий</text>
<rect x="741.81" y="483.70" width="48.69" height="31.80" fill="#8cc350"/>
<text transform="translate(744.61,494.40) scale(1.05,1.0)" font-family='"Liberation Serif", serif' font-size="7.5" font-weight="bold" fill="#123a06" stroke="#123a06" stroke-width="0.2">102</text>
<text transform="translate(745.01,503.00) scale(1.2,1.0)" font-family='"Liberation Serif", serif' font-size="6.8" font-weight="bold" fill="#123a06" letter-spacing="0.3" stroke="#123a06" stroke-width="0.1">[255]</text>
<text x="788.21" y="498.30" font-family='"Liberation Serif", serif' font-size="14.5" font-weight="bold" fill="#0b2a02" text-anchor="end" stroke="#0b2a02" stroke-width="0.35">No</text>
<text transform="translate(788.01,509.70) scale(1.18,1.0)" font-family='"Liberation Serif", serif' font-size="6.8" font-weight="bold" fill="#123a06" text-anchor="end" stroke="#123a06" stroke-width="0.12">Нобелий</text>
<rect x="790.51" y="483.70" width="48.69" height="31.80" fill="#64b9dc"/>
<text transform="translate(793.31,494.40) scale(1.05,1.0)" font-family='"Liberation Serif", serif' font-size="7.5" font-weight="bold" fill="#0a2540" stroke="#0a2540" stroke-width="0.2">103</text>
<text transform="translate(793.71,503.00) scale(1.2,1.0)" font-family='"Liberation Serif", serif' font-size="6.8" font-weight="bold" fill="#0a2540" letter-spacing="0.3" stroke="#0a2540" stroke-width="0.1">[256]</text>
<text x="836.90" y="498.30" font-family='"Liberation Serif", serif' font-size="14.5" font-weight="bold" fill="#07213a" text-anchor="end" stroke="#07213a" stroke-width="0.35">Lr</text>
<text transform="translate(836.70,509.70) scale(1.18,1.0)" font-family='"Liberation Serif", serif' font-size="6.8" font-weight="bold" fill="#0e3050" text-anchor="end" stroke="#0e3050" stroke-width="0.12">Лоуренсий</text>
<line x1="139.70" y1="452.20" x2="839.20" y2="452.20" stroke="#3a3a30" stroke-width="1.5"/>
<line x1="139.70" y1="515.50" x2="839.20" y2="515.50" stroke="#3a3a30" stroke-width="1.5"/>
<line x1="139.70" y1="452.20" x2="139.70" y2="515.50" stroke="#3a3a30" stroke-width="1.5"/>
<line x1="839.20" y1="452.20" x2="839.20" y2="515.50" stroke="#3a3a30" stroke-width="1.5"/>
<line x1="139.70" y1="483.70" x2="839.20" y2="483.70" stroke="rgba(30,50,10,0.9)" stroke-width="1.5"/>
<line x1="157.50" y1="452.20" x2="157.50" y2="515.50" stroke="rgba(30,50,10,0.9)" stroke-width="1.5"/>
<line x1="206.19" y1="452.20" x2="206.19" y2="515.50" stroke="rgba(30,50,10,0.9)" stroke-width="1.5"/>
<line x1="254.89" y1="452.20" x2="254.89" y2="515.50" stroke="rgba(30,50,10,0.9)" stroke-width="1.5"/>
<line x1="303.58" y1="452.20" x2="303.58" y2="515.50" stroke="rgba(30,50,10,0.9)" stroke-width="1.5"/>
<line x1="352.27" y1="452.20" x2="352.27" y2="515.50" stroke="rgba(30,50,10,0.9)" stroke-width="1.5"/>
<line x1="400.96" y1="452.20" x2="400.96" y2="515.50" stroke="rgba(30,50,10,0.9)" stroke-width="1.5"/>
<line x1="449.66" y1="452.20" x2="449.66" y2="515.50" stroke="rgba(30,50,10,0.9)" stroke-width="1.5"/>
<line x1="498.35" y1="452.20" x2="498.35" y2="515.50" stroke="rgba(30,50,10,0.9)" stroke-width="1.5"/>
<line x1="547.04" y1="452.20" x2="547.04" y2="515.50" stroke="rgba(30,50,10,0.9)" stroke-width="1.5"/>
<line x1="595.74" y1="452.20" x2="595.74" y2="515.50" stroke="rgba(30,50,10,0.9)" stroke-width="1.5"/>
<line x1="644.43" y1="452.20" x2="644.43" y2="515.50" stroke="rgba(30,50,10,0.9)" stroke-width="1.5"/>
<line x1="693.12" y1="452.20" x2="693.12" y2="515.50" stroke="rgba(30,50,10,0.9)" stroke-width="1.5"/>
<line x1="741.81" y1="452.20" x2="741.81" y2="515.50" stroke="rgba(30,50,10,0.9)" stroke-width="1.5"/>
<line x1="790.51" y1="452.20" x2="790.51" y2="515.50" stroke="rgba(30,50,10,0.9)" stroke-width="1.5"/>
<text transform="translate(147.3,477.9) rotate(-90)" font-family='"Liberation Serif", serif' font-size="6" font-style="italic" font-weight="bold" fill="#333" textLength="18.3" lengthAdjust="spacingAndGlyphs">Ланта</text>
<text transform="translate(152.3,477.9) rotate(-90)" font-family='"Liberation Serif", serif' font-size="6" font-style="italic" font-weight="bold" fill="#333" textLength="21.4" lengthAdjust="spacingAndGlyphs">ноиды*</text>
<text transform="translate(147.8,509) rotate(-90)" font-family='"Liberation Sans", sans-serif' font-size="6" font-weight="bold" fill="#333" textLength="14.7" lengthAdjust="spacingAndGlyphs">Акти</text>
<text transform="translate(152.3,512) rotate(-90)" font-family='"Liberation Sans", sans-serif' font-size="6" font-weight="bold" fill="#333" textLength="22" lengthAdjust="spacingAndGlyphs">ноиды</text>
<rect x="153.5" y="479.9" width="688.3" height="33" fill="none" stroke="#ee1515" stroke-width="3.2"/>
<text x="18.20" y="468.20" font-family='"Liberation Serif", serif' font-size="17.5" font-weight="bold" fill="#dd1111" textLength="98.5" lengthAdjust="spacingAndGlyphs">Лантаноиды</text>
<text x="18.20" y="504.50" font-family='"Liberation Serif", serif' font-size="14" font-weight="bold" fill="#dd1111" textLength="102.6" lengthAdjust="spacingAndGlyphs">АКТИНОИДЫ</text>
<text x="845.00" y="512.00" font-family='"Liberation Sans", sans-serif' font-size="11" font-weight="normal" fill="#c8c8c8">Т</text>
</svg>
</body></html>
